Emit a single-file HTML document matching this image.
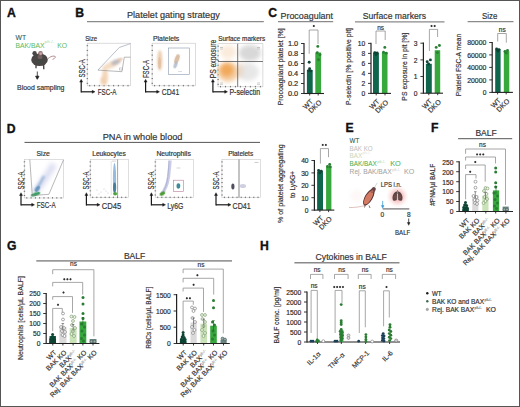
<!DOCTYPE html><html><head><meta charset="utf-8"><style>html,body{margin:0;padding:0;background:#fff;}svg{display:block;}text{font-family:"Liberation Sans", sans-serif;}</style></head><body>
<svg xmlns="http://www.w3.org/2000/svg" width="520" height="407" viewBox="0 0 520 407">
<defs>
<filter id="b1" x="-50%" y="-50%" width="200%" height="200%"><feGaussianBlur stdDeviation="1.2"/></filter>
<filter id="b2" x="-50%" y="-50%" width="200%" height="200%"><feGaussianBlur stdDeviation="2.2"/></filter>
<filter id="b3" x="-50%" y="-50%" width="200%" height="200%"><feGaussianBlur stdDeviation="3.5"/></filter>
<filter id="b05" x="-50%" y="-50%" width="200%" height="200%"><feGaussianBlur stdDeviation="0.6"/></filter>
<radialGradient id="glow"><stop offset="0" stop-color="#f08a8a" stop-opacity="0.8"/><stop offset="0.55" stop-color="#f5b5b5" stop-opacity="0.55"/><stop offset="1" stop-color="#fde8e8" stop-opacity="0"/></radialGradient>
</defs>
<rect x="0" y="0" width="520" height="407" fill="#fff" stroke="none" stroke-width="0"/>
<text x="7" y="17" font-size="12.2" fill="#111" text-anchor="start" font-weight="bold" stroke="#111" stroke-width="0.35">A</text>
<text x="15.6" y="40" font-size="7" fill="#2f5a5c" text-anchor="start" textLength="10.6" lengthAdjust="spacingAndGlyphs" stroke="#2f5a5c" stroke-width="0.1">WT</text>
<text x="15.6" y="47.6" font-size="7" fill="#62bb66" text-anchor="start" textLength="28.8" lengthAdjust="spacingAndGlyphs" stroke="#62bb66" stroke-width="0.05">BAK/BAX</text>
<text x="44.4" y="43.4" font-size="4" fill="#b0dcb0" text-anchor="start" textLength="10" lengthAdjust="spacingAndGlyphs">plt-/-</text>
<text x="57.2" y="47.6" font-size="7" fill="#62bb66" text-anchor="start" textLength="9.8" lengthAdjust="spacingAndGlyphs" stroke="#62bb66" stroke-width="0.05">KO</text>
<path d="M47.5,59 C50,57 52,55.5 55,56.3 C56.5,57 54,59 52.5,59.4" stroke="#b08484" stroke-width="0.9" fill="none"/>
<ellipse cx="39.5" cy="59.8" rx="8.3" ry="6.3" fill="#4b4646" opacity="1"/>
<ellipse cx="34.6" cy="53.2" rx="2.2" ry="2.3" fill="#4b4646" opacity="1"/>
<ellipse cx="40.5" cy="53.2" rx="2.3" ry="2.3" fill="#8a6e6e" opacity="1"/>
<ellipse cx="40.7" cy="53.6" rx="1.3" ry="1.4" fill="#d6a8a8" opacity="1"/>
<ellipse cx="40" cy="57" rx="2.5" ry="2.2" fill="#8a7070" opacity="0.6"/>
<ellipse cx="39.5" cy="61.5" rx="3.5" ry="2.5" fill="#3d4a42" opacity="0.6"/>
<line x1="36" y1="64.5" x2="36" y2="68.3" stroke="#4b4646" stroke-width="1.4"/>
<line x1="43.6" y1="64.5" x2="43.8" y2="69.3" stroke="#4b4646" stroke-width="1.4"/>
<line x1="37.3" y1="71.5" x2="37.3" y2="78.5" stroke="#222" stroke-width="0.8"/>
<polygon points="35.6,76.2 37.3,79.3 39,76.2" stroke="#222" stroke-width="0.8" fill="#222"/>
<text x="17" y="90.2" font-size="7" fill="#333" text-anchor="start" textLength="47.5" lengthAdjust="spacingAndGlyphs" stroke="#333" stroke-width="0.18">Blood sampling</text>
<text x="75.3" y="17" font-size="12.2" fill="#111" text-anchor="start" font-weight="bold" stroke="#111" stroke-width="0.35">B</text>
<text x="127" y="18.2" font-size="8.8" fill="#333" text-anchor="start" textLength="92.8" lengthAdjust="spacingAndGlyphs" stroke="#333" stroke-width="0.18">Platelet gating strategy</text>
<line x1="87" y1="21.6" x2="263.8" y2="21.6" stroke="#8a8a8a" stroke-width="1.3"/>
<text x="85.2" y="41" font-size="6.3" fill="#333" text-anchor="start" textLength="12" lengthAdjust="spacingAndGlyphs" stroke="#333" stroke-width="0.18">Size</text>
<rect x="87.2" y="43.2" width="43.3" height="42.6" fill="none" stroke="#c4c4c4" stroke-width="0.6"/>
<line x1="86.6" y1="45.7" x2="88.1" y2="45.7" stroke="#444" stroke-width="0.7"/>
<line x1="86.6" y1="50.4" x2="88.1" y2="50.4" stroke="#444" stroke-width="0.7"/>
<line x1="86.6" y1="55.1" x2="88.1" y2="55.1" stroke="#444" stroke-width="0.7"/>
<line x1="86.6" y1="59.8" x2="88.1" y2="59.8" stroke="#444" stroke-width="0.7"/>
<line x1="86.6" y1="64.5" x2="88.1" y2="64.5" stroke="#444" stroke-width="0.7"/>
<line x1="86.6" y1="69.2" x2="88.1" y2="69.2" stroke="#444" stroke-width="0.7"/>
<line x1="86.6" y1="73.9" x2="88.1" y2="73.9" stroke="#444" stroke-width="0.7"/>
<line x1="86.6" y1="78.6" x2="88.1" y2="78.6" stroke="#444" stroke-width="0.7"/>
<line x1="86.6" y1="83.3" x2="88.1" y2="83.3" stroke="#444" stroke-width="0.7"/>
<line x1="89.7" y1="84.9" x2="89.7" y2="86.4" stroke="#444" stroke-width="0.7"/>
<line x1="94.49" y1="84.9" x2="94.49" y2="86.4" stroke="#444" stroke-width="0.7"/>
<line x1="99.28" y1="84.9" x2="99.28" y2="86.4" stroke="#444" stroke-width="0.7"/>
<line x1="104.06" y1="84.9" x2="104.06" y2="86.4" stroke="#444" stroke-width="0.7"/>
<line x1="108.85" y1="84.9" x2="108.85" y2="86.4" stroke="#444" stroke-width="0.7"/>
<line x1="113.64" y1="84.9" x2="113.64" y2="86.4" stroke="#444" stroke-width="0.7"/>
<line x1="118.42" y1="84.9" x2="118.42" y2="86.4" stroke="#444" stroke-width="0.7"/>
<line x1="123.21" y1="84.9" x2="123.21" y2="86.4" stroke="#444" stroke-width="0.7"/>
<line x1="128" y1="84.9" x2="128" y2="86.4" stroke="#444" stroke-width="0.7"/>
<ellipse cx="105" cy="77" rx="3.2" ry="8.5" fill="#f0cca8" opacity="0.75" filter="url(#b1)"/>
<ellipse cx="102.5" cy="81" rx="2.5" ry="4" fill="#eec6a0" opacity="0.6" filter="url(#b1)"/>
<ellipse cx="111" cy="65" rx="10" ry="3.2" fill="#f0cfae" opacity="0.7" transform="rotate(-25 111 65)" filter="url(#b1)"/>
<ellipse cx="116" cy="62" rx="5" ry="2.3" fill="#a8acbc" opacity="0.75" transform="rotate(-25 116 62)" filter="url(#b1)"/>
<ellipse cx="120" cy="59.5" rx="3" ry="1.8" fill="#e8c4a4" opacity="0.6" transform="rotate(-25 120 59.5)" filter="url(#b05)"/>
<polyline points="97.9,70.1 119.4,47.4 128.6,44.3 130.5,43.6" stroke="#8a96aa" stroke-width="0.6" fill="none"/>
<polyline points="130.5,57.2 124.3,57.2 121.9,71.7 97.9,70.1" stroke="#8a8a8a" stroke-width="0.6" fill="none"/>
<rect x="119.3" y="68" width="3" height="2" fill="none" stroke="#999" stroke-width="0.4"/>
<line x1="81.2" y1="92.4" x2="81.2" y2="81.3" stroke="#1a1a1a" stroke-width="1.2"/>
<polygon points="79.7,82.1 81.2,79.3 82.7,82.1" stroke="#1a1a1a" stroke-width="0.4" fill="#1a1a1a"/>
<line x1="81.2" y1="91.8" x2="93" y2="91.8" stroke="#1a1a1a" stroke-width="1.2"/>
<polygon points="92.2,90.3 95,91.8 92.2,93.3" stroke="#1a1a1a" stroke-width="0.4" fill="#1a1a1a"/>
<text x="85.1" y="68.4" font-size="8.3" fill="#333" text-anchor="middle" transform="rotate(-90 85.1 68.4)" textLength="18.2" lengthAdjust="spacingAndGlyphs" stroke="#333" stroke-width="0.18">SSC-A</text>
<text x="97.7" y="94.5" font-size="8.3" fill="#333" text-anchor="start" textLength="18.7" lengthAdjust="spacingAndGlyphs" stroke="#333" stroke-width="0.18">FSC-A</text>
<text x="153" y="41" font-size="6.3" fill="#333" text-anchor="start" textLength="26.3" lengthAdjust="spacingAndGlyphs" stroke="#333" stroke-width="0.18">Platelets</text>
<rect x="152.1" y="43.2" width="43.4" height="42.6" fill="none" stroke="#c4c4c4" stroke-width="0.6"/>
<line x1="151.5" y1="45.7" x2="153" y2="45.7" stroke="#444" stroke-width="0.7"/>
<line x1="151.5" y1="50.4" x2="153" y2="50.4" stroke="#444" stroke-width="0.7"/>
<line x1="151.5" y1="55.1" x2="153" y2="55.1" stroke="#444" stroke-width="0.7"/>
<line x1="151.5" y1="59.8" x2="153" y2="59.8" stroke="#444" stroke-width="0.7"/>
<line x1="151.5" y1="64.5" x2="153" y2="64.5" stroke="#444" stroke-width="0.7"/>
<line x1="151.5" y1="69.2" x2="153" y2="69.2" stroke="#444" stroke-width="0.7"/>
<line x1="151.5" y1="73.9" x2="153" y2="73.9" stroke="#444" stroke-width="0.7"/>
<line x1="151.5" y1="78.6" x2="153" y2="78.6" stroke="#444" stroke-width="0.7"/>
<line x1="151.5" y1="83.3" x2="153" y2="83.3" stroke="#444" stroke-width="0.7"/>
<line x1="154.6" y1="84.9" x2="154.6" y2="86.4" stroke="#444" stroke-width="0.7"/>
<line x1="159.4" y1="84.9" x2="159.4" y2="86.4" stroke="#444" stroke-width="0.7"/>
<line x1="164.2" y1="84.9" x2="164.2" y2="86.4" stroke="#444" stroke-width="0.7"/>
<line x1="169" y1="84.9" x2="169" y2="86.4" stroke="#444" stroke-width="0.7"/>
<line x1="173.8" y1="84.9" x2="173.8" y2="86.4" stroke="#444" stroke-width="0.7"/>
<line x1="178.6" y1="84.9" x2="178.6" y2="86.4" stroke="#444" stroke-width="0.7"/>
<line x1="183.4" y1="84.9" x2="183.4" y2="86.4" stroke="#444" stroke-width="0.7"/>
<line x1="188.2" y1="84.9" x2="188.2" y2="86.4" stroke="#444" stroke-width="0.7"/>
<line x1="193" y1="84.9" x2="193" y2="86.4" stroke="#444" stroke-width="0.7"/>
<ellipse cx="159.8" cy="60.5" rx="2.6" ry="10.5" fill="#e8c8a8" opacity="0.85" filter="url(#b1)"/>
<ellipse cx="159.5" cy="63" rx="1.5" ry="6" fill="#dcb898" opacity="0.6" filter="url(#b05)"/>
<ellipse cx="177" cy="59" rx="2.3" ry="5" fill="#d4b498" opacity="0.85" transform="rotate(20 177 59)" filter="url(#b05)"/>
<ellipse cx="175.5" cy="65" rx="1.8" ry="3.5" fill="#a8b4c8" opacity="0.75" transform="rotate(20 175.5 65)" filter="url(#b05)"/>
<rect x="168.4" y="48" width="20.9" height="26.4" fill="none" stroke="#8898b0" stroke-width="0.6"/>
<line x1="178" y1="71.5" x2="182" y2="71.5" stroke="#aaa" stroke-width="0.4"/>
<line x1="145.6" y1="92.4" x2="145.6" y2="81.3" stroke="#1a1a1a" stroke-width="1.2"/>
<polygon points="144.1,82.1 145.6,79.3 147.1,82.1" stroke="#1a1a1a" stroke-width="0.4" fill="#1a1a1a"/>
<line x1="145.6" y1="91.8" x2="157.5" y2="91.8" stroke="#1a1a1a" stroke-width="1.2"/>
<polygon points="156.7,90.3 159.5,91.8 156.7,93.3" stroke="#1a1a1a" stroke-width="0.4" fill="#1a1a1a"/>
<text x="148.7" y="69" font-size="8.3" fill="#333" text-anchor="middle" transform="rotate(-90 148.7 69)" textLength="18.2" lengthAdjust="spacingAndGlyphs" stroke="#333" stroke-width="0.18">FSC-A</text>
<text x="161.7" y="94.8" font-size="8.3" fill="#333" text-anchor="start" textLength="17.5" lengthAdjust="spacingAndGlyphs" stroke="#333" stroke-width="0.18">CD41</text>
<text x="218.2" y="41" font-size="6.3" fill="#333" text-anchor="start" textLength="47" lengthAdjust="spacingAndGlyphs" stroke="#333" stroke-width="0.18">Surface markers</text>
<rect x="218" y="43.7" width="44.9" height="43.1" fill="none" stroke="#c4c4c4" stroke-width="0.6"/>
<line x1="217.4" y1="46.2" x2="218.9" y2="46.2" stroke="#444" stroke-width="0.7"/>
<line x1="217.4" y1="50.96" x2="218.9" y2="50.96" stroke="#444" stroke-width="0.7"/>
<line x1="217.4" y1="55.73" x2="218.9" y2="55.73" stroke="#444" stroke-width="0.7"/>
<line x1="217.4" y1="60.49" x2="218.9" y2="60.49" stroke="#444" stroke-width="0.7"/>
<line x1="217.4" y1="65.25" x2="218.9" y2="65.25" stroke="#444" stroke-width="0.7"/>
<line x1="217.4" y1="70.01" x2="218.9" y2="70.01" stroke="#444" stroke-width="0.7"/>
<line x1="217.4" y1="74.78" x2="218.9" y2="74.78" stroke="#444" stroke-width="0.7"/>
<line x1="217.4" y1="79.54" x2="218.9" y2="79.54" stroke="#444" stroke-width="0.7"/>
<line x1="217.4" y1="84.3" x2="218.9" y2="84.3" stroke="#444" stroke-width="0.7"/>
<line x1="220.5" y1="85.9" x2="220.5" y2="87.4" stroke="#444" stroke-width="0.7"/>
<line x1="225.49" y1="85.9" x2="225.49" y2="87.4" stroke="#444" stroke-width="0.7"/>
<line x1="230.47" y1="85.9" x2="230.47" y2="87.4" stroke="#444" stroke-width="0.7"/>
<line x1="235.46" y1="85.9" x2="235.46" y2="87.4" stroke="#444" stroke-width="0.7"/>
<line x1="240.45" y1="85.9" x2="240.45" y2="87.4" stroke="#444" stroke-width="0.7"/>
<line x1="245.44" y1="85.9" x2="245.44" y2="87.4" stroke="#444" stroke-width="0.7"/>
<line x1="250.42" y1="85.9" x2="250.42" y2="87.4" stroke="#444" stroke-width="0.7"/>
<line x1="255.41" y1="85.9" x2="255.41" y2="87.4" stroke="#444" stroke-width="0.7"/>
<line x1="260.4" y1="85.9" x2="260.4" y2="87.4" stroke="#444" stroke-width="0.7"/>
<ellipse cx="250" cy="53" rx="11" ry="8" fill="#c8c8c8" opacity="0.7" filter="url(#b2)"/>
<ellipse cx="248" cy="72" rx="11" ry="9" fill="#d4d4d4" opacity="0.55" filter="url(#b2)"/>
<ellipse cx="228" cy="52" rx="8" ry="7" fill="#f6dcc0" opacity="0.55" filter="url(#b2)"/>
<ellipse cx="228" cy="72" rx="10.5" ry="10" fill="#f3c08a" opacity="0.8" filter="url(#b2)"/>
<ellipse cx="226.8" cy="70" rx="6.5" ry="6.5" fill="#f0a048" opacity="0.8" filter="url(#b2)"/>
<ellipse cx="240" cy="70" rx="4" ry="8" fill="#e8c8a8" opacity="0.4" filter="url(#b2)"/>
<line x1="237.7" y1="43.7" x2="237.7" y2="86.8" stroke="#555" stroke-width="0.8"/>
<line x1="218" y1="61.5" x2="262.9" y2="61.5" stroke="#555" stroke-width="0.8"/>
<line x1="220" y1="47.5" x2="223" y2="47.5" stroke="#999" stroke-width="0.5"/>
<line x1="220" y1="49" x2="223" y2="49" stroke="#aaa" stroke-width="0.5"/>
<line x1="257" y1="47.5" x2="260" y2="47.5" stroke="#999" stroke-width="0.5"/>
<line x1="257" y1="49" x2="260" y2="49" stroke="#aaa" stroke-width="0.5"/>
<line x1="220" y1="83" x2="223" y2="83" stroke="#999" stroke-width="0.5"/>
<line x1="220" y1="84.5" x2="223" y2="84.5" stroke="#aaa" stroke-width="0.5"/>
<line x1="257" y1="83" x2="260" y2="83" stroke="#999" stroke-width="0.5"/>
<line x1="257" y1="84.5" x2="260" y2="84.5" stroke="#aaa" stroke-width="0.5"/>
<line x1="212.9" y1="92.4" x2="212.9" y2="81.3" stroke="#1a1a1a" stroke-width="1.2"/>
<polygon points="211.4,82.1 212.9,79.3 214.4,82.1" stroke="#1a1a1a" stroke-width="0.4" fill="#1a1a1a"/>
<line x1="212.9" y1="91.8" x2="225.5" y2="91.8" stroke="#1a1a1a" stroke-width="1.2"/>
<polygon points="224.7,90.3 227.5,91.8 224.7,93.3" stroke="#1a1a1a" stroke-width="0.4" fill="#1a1a1a"/>
<text x="216.1" y="59" font-size="8.3" fill="#333" text-anchor="middle" transform="rotate(-90 216.1 59)" textLength="38.6" lengthAdjust="spacingAndGlyphs" stroke="#333" stroke-width="0.18">PS exposure</text>
<text x="229.4" y="94.8" font-size="8.3" fill="#333" text-anchor="start" textLength="30.8" lengthAdjust="spacingAndGlyphs" stroke="#333" stroke-width="0.18">P-selectin</text>
<text x="268.2" y="17.4" font-size="12.2" fill="#111" text-anchor="start" font-weight="bold" stroke="#111" stroke-width="0.35">C</text>
<text x="280.5" y="18.5" font-size="8.8" fill="#333" text-anchor="start" textLength="52.5" lengthAdjust="spacingAndGlyphs" stroke="#333" stroke-width="0.18">Procoagulant</text>
<line x1="278" y1="21.6" x2="333.2" y2="21.6" stroke="#8a8a8a" stroke-width="1.3"/>
<text x="362.7" y="19" font-size="8.8" fill="#333" text-anchor="start" textLength="63.3" lengthAdjust="spacingAndGlyphs" stroke="#333" stroke-width="0.18">Surface markers</text>
<line x1="355" y1="21.9" x2="444.5" y2="21.9" stroke="#8a8a8a" stroke-width="1.3"/>
<text x="481.9" y="19" font-size="8.8" fill="#333" text-anchor="start" textLength="15.4" lengthAdjust="spacingAndGlyphs" stroke="#333" stroke-width="0.18">Size</text>
<line x1="467.6" y1="21.7" x2="513.5" y2="21.7" stroke="#8a8a8a" stroke-width="1.3"/>
<line x1="304" y1="42.9" x2="304" y2="94.1" stroke="#222" stroke-width="1.2"/>
<line x1="301" y1="43.5" x2="304" y2="43.5" stroke="#222" stroke-width="0.9"/>
<text x="298.2" y="46.3" font-size="6.7" fill="#2b2b2b" text-anchor="end" textLength="10.3" lengthAdjust="spacingAndGlyphs" stroke="#2b2b2b" stroke-width="0.18">1.0</text>
<line x1="301" y1="53.5" x2="304" y2="53.5" stroke="#222" stroke-width="0.9"/>
<text x="298.2" y="56.3" font-size="6.7" fill="#2b2b2b" text-anchor="end" textLength="10.3" lengthAdjust="spacingAndGlyphs" stroke="#2b2b2b" stroke-width="0.18">0.8</text>
<line x1="301" y1="63.5" x2="304" y2="63.5" stroke="#222" stroke-width="0.9"/>
<text x="298.2" y="66.3" font-size="6.7" fill="#2b2b2b" text-anchor="end" textLength="10.3" lengthAdjust="spacingAndGlyphs" stroke="#2b2b2b" stroke-width="0.18">0.6</text>
<line x1="301" y1="73.5" x2="304" y2="73.5" stroke="#222" stroke-width="0.9"/>
<text x="298.2" y="76.3" font-size="6.7" fill="#2b2b2b" text-anchor="end" textLength="10.3" lengthAdjust="spacingAndGlyphs" stroke="#2b2b2b" stroke-width="0.18">0.4</text>
<line x1="301" y1="83.5" x2="304" y2="83.5" stroke="#222" stroke-width="0.9"/>
<text x="298.2" y="86.3" font-size="6.7" fill="#2b2b2b" text-anchor="end" textLength="10.3" lengthAdjust="spacingAndGlyphs" stroke="#2b2b2b" stroke-width="0.18">0.2</text>
<line x1="301" y1="93.5" x2="304" y2="93.5" stroke="#222" stroke-width="0.9"/>
<text x="298.2" y="96.3" font-size="6.7" fill="#2b2b2b" text-anchor="end" textLength="10.3" lengthAdjust="spacingAndGlyphs" stroke="#2b2b2b" stroke-width="0.18">0.0</text>
<rect x="306.9" y="70" width="5.8" height="23.5" fill="#0f664c" stroke="none" stroke-width="0"/>
<rect x="315.3" y="52.5" width="5.8" height="41" fill="#37a83c" stroke="none" stroke-width="0"/>
<circle cx="309.2" cy="62.2" r="1.45" fill="#0d4434" stroke="none" stroke-width="0.6"/>
<circle cx="309.6" cy="68.8" r="1.45" fill="#0d4434" stroke="none" stroke-width="0.6"/>
<circle cx="308.6" cy="70.6" r="1.45" fill="#0d4434" stroke="none" stroke-width="0.6"/>
<circle cx="310.8" cy="70.9" r="1.45" fill="#0d4434" stroke="none" stroke-width="0.6"/>
<circle cx="317.8" cy="46.4" r="1.45" fill="#2a7f34" stroke="none" stroke-width="0.6"/>
<circle cx="317.3" cy="52.8" r="1.45" fill="#2a7f34" stroke="none" stroke-width="0.6"/>
<circle cx="320" cy="54.8" r="1.45" fill="#2a7f34" stroke="none" stroke-width="0.6"/>
<circle cx="318.5" cy="59.8" r="1.45" fill="#2a7f34" stroke="none" stroke-width="0.6"/>
<line x1="304" y1="93.5" x2="324" y2="93.5" stroke="#222" stroke-width="1.1"/>
<line x1="309.7" y1="93.5" x2="309.7" y2="95.5" stroke="#222" stroke-width="0.9"/>
<line x1="318.2" y1="93.5" x2="318.2" y2="95.5" stroke="#222" stroke-width="0.9"/>
<polyline points="309.2,53.8 309.2,30 318,30 318,44" stroke="#8a8a8a" stroke-width="0.75" fill="none"/>
<circle cx="313.8" cy="26" r="0.95" fill="#2e2e2e" stroke="none" stroke-width="0"/>
<path d="M313.8,24.9 l0,2.2 M312.7,26 l2.2,0" stroke="#2e2e2e" stroke-width="0.35"/>
<text x="282.7" y="66.8" font-size="8" fill="#333" text-anchor="middle" transform="rotate(-90 282.7 66.8)" textLength="77" lengthAdjust="spacingAndGlyphs" stroke="#333" stroke-width="0.18">Procoagulant platelet [%]</text>
<text x="313.5" y="102" font-size="7" fill="#333" text-anchor="end" transform="rotate(-45 313.5 102)" stroke="#333" stroke-width="0.18">WT</text>
<text x="322" y="102.8" font-size="7" fill="#333" text-anchor="end" transform="rotate(-45 322 102.8)" stroke="#333" stroke-width="0.18">DKO</text>
<line x1="371" y1="42.8" x2="371" y2="94" stroke="#222" stroke-width="1.2"/>
<line x1="368" y1="43.4" x2="371" y2="43.4" stroke="#222" stroke-width="0.9"/>
<text x="365.2" y="46.2" font-size="6.7" fill="#2b2b2b" text-anchor="end" stroke="#2b2b2b" stroke-width="0.18">10</text>
<line x1="368" y1="53.4" x2="371" y2="53.4" stroke="#222" stroke-width="0.9"/>
<text x="365.2" y="56.2" font-size="6.7" fill="#2b2b2b" text-anchor="end" stroke="#2b2b2b" stroke-width="0.18">8</text>
<line x1="368" y1="63.4" x2="371" y2="63.4" stroke="#222" stroke-width="0.9"/>
<text x="365.2" y="66.2" font-size="6.7" fill="#2b2b2b" text-anchor="end" stroke="#2b2b2b" stroke-width="0.18">6</text>
<line x1="368" y1="73.4" x2="371" y2="73.4" stroke="#222" stroke-width="0.9"/>
<text x="365.2" y="76.2" font-size="6.7" fill="#2b2b2b" text-anchor="end" stroke="#2b2b2b" stroke-width="0.18">4</text>
<line x1="368" y1="83.4" x2="371" y2="83.4" stroke="#222" stroke-width="0.9"/>
<text x="365.2" y="86.2" font-size="6.7" fill="#2b2b2b" text-anchor="end" stroke="#2b2b2b" stroke-width="0.18">2</text>
<line x1="368" y1="93.4" x2="371" y2="93.4" stroke="#222" stroke-width="0.9"/>
<text x="365.2" y="96.2" font-size="6.7" fill="#2b2b2b" text-anchor="end" stroke="#2b2b2b" stroke-width="0.18">0</text>
<rect x="373" y="53" width="5.9" height="40.4" fill="#0f664c" stroke="none" stroke-width="0"/>
<rect x="381.9" y="52.3" width="5.6" height="41.1" fill="#37a83c" stroke="none" stroke-width="0"/>
<circle cx="374.8" cy="52.6" r="1.45" fill="#0d4434" stroke="none" stroke-width="0.6"/>
<circle cx="377.2" cy="52.9" r="1.45" fill="#0d4434" stroke="none" stroke-width="0.6"/>
<circle cx="376" cy="54.5" r="1.45" fill="#0d4434" stroke="none" stroke-width="0.6"/>
<circle cx="384.8" cy="47.4" r="1.45" fill="#2a7f34" stroke="none" stroke-width="0.6"/>
<circle cx="383.5" cy="52.2" r="1.45" fill="#2a7f34" stroke="none" stroke-width="0.6"/>
<circle cx="386.2" cy="53.2" r="1.45" fill="#2a7f34" stroke="none" stroke-width="0.6"/>
<line x1="371" y1="93.4" x2="391" y2="93.4" stroke="#222" stroke-width="1.1"/>
<line x1="376.2" y1="93.4" x2="376.2" y2="95.4" stroke="#222" stroke-width="0.9"/>
<line x1="385" y1="93.4" x2="385" y2="95.4" stroke="#222" stroke-width="0.9"/>
<polyline points="376,44 376,31 385.2,31 385.2,40" stroke="#8a8a8a" stroke-width="0.75" fill="none"/>
<text x="380.6" y="29.6" font-size="6.5" fill="#333" text-anchor="middle" stroke="#333" stroke-width="0.18">ns</text>
<text x="350.8" y="66.5" font-size="8" fill="#333" text-anchor="middle" transform="rotate(-90 350.8 66.5)" textLength="77" lengthAdjust="spacingAndGlyphs" stroke="#333" stroke-width="0.18">P-selectin [% positive plt]</text>
<text x="380" y="102" font-size="7" fill="#333" text-anchor="end" transform="rotate(-45 380 102)" stroke="#333" stroke-width="0.18">WT</text>
<text x="388.8" y="102.8" font-size="7" fill="#333" text-anchor="end" transform="rotate(-45 388.8 102.8)" stroke="#333" stroke-width="0.18">DKO</text>
<line x1="423.4" y1="42.6" x2="423.4" y2="93.8" stroke="#222" stroke-width="1.2"/>
<line x1="420.4" y1="43.2" x2="423.4" y2="43.2" stroke="#222" stroke-width="0.9"/>
<text x="417.6" y="46" font-size="6.7" fill="#2b2b2b" text-anchor="end" stroke="#2b2b2b" stroke-width="0.18">3</text>
<line x1="420.4" y1="59.9" x2="423.4" y2="59.9" stroke="#222" stroke-width="0.9"/>
<text x="417.6" y="62.7" font-size="6.7" fill="#2b2b2b" text-anchor="end" stroke="#2b2b2b" stroke-width="0.18">2</text>
<line x1="420.4" y1="76.5" x2="423.4" y2="76.5" stroke="#222" stroke-width="0.9"/>
<text x="417.6" y="79.3" font-size="6.7" fill="#2b2b2b" text-anchor="end" stroke="#2b2b2b" stroke-width="0.18">1</text>
<line x1="420.4" y1="93.2" x2="423.4" y2="93.2" stroke="#222" stroke-width="0.9"/>
<text x="417.6" y="96" font-size="6.7" fill="#2b2b2b" text-anchor="end" stroke="#2b2b2b" stroke-width="0.18">0</text>
<rect x="425.9" y="63.8" width="5.9" height="29.4" fill="#0f664c" stroke="none" stroke-width="0"/>
<rect x="434.7" y="50.2" width="5.5" height="43" fill="#37a83c" stroke="none" stroke-width="0"/>
<circle cx="427.2" cy="61.7" r="1.45" fill="#0d4434" stroke="none" stroke-width="0.6"/>
<circle cx="430.4" cy="59.9" r="1.45" fill="#0d4434" stroke="none" stroke-width="0.6"/>
<circle cx="428.6" cy="64" r="1.45" fill="#0d4434" stroke="none" stroke-width="0.6"/>
<circle cx="436.2" cy="47.4" r="1.45" fill="#2a7f34" stroke="none" stroke-width="0.6"/>
<circle cx="439.4" cy="45.5" r="1.45" fill="#2a7f34" stroke="none" stroke-width="0.6"/>
<circle cx="437.4" cy="52.6" r="1.45" fill="#2a7f34" stroke="none" stroke-width="0.6"/>
<line x1="423.4" y1="93.2" x2="443" y2="93.2" stroke="#222" stroke-width="1.1"/>
<line x1="428.8" y1="93.2" x2="428.8" y2="95.2" stroke="#222" stroke-width="0.9"/>
<line x1="437.7" y1="93.2" x2="437.7" y2="95.2" stroke="#222" stroke-width="0.9"/>
<polyline points="429.4,51 429.4,29.4 437.6,29.4 437.6,37" stroke="#8a8a8a" stroke-width="0.75" fill="none"/>
<circle cx="431.55" cy="26" r="0.95" fill="#2e2e2e" stroke="none" stroke-width="0"/>
<path d="M431.55,24.9 l0,2.2 M430.45,26 l2.2,0" stroke="#2e2e2e" stroke-width="0.35"/>
<circle cx="434.65" cy="26" r="0.95" fill="#2e2e2e" stroke="none" stroke-width="0"/>
<path d="M434.65,24.9 l0,2.2 M433.55,26 l2.2,0" stroke="#2e2e2e" stroke-width="0.35"/>
<text x="406.9" y="66.7" font-size="8" fill="#333" text-anchor="middle" transform="rotate(-90 406.9 66.7)" textLength="68" lengthAdjust="spacingAndGlyphs" stroke="#333" stroke-width="0.18">PS exposure in plt [%]</text>
<text x="432.6" y="101.7" font-size="7" fill="#333" text-anchor="end" transform="rotate(-45 432.6 101.7)" stroke="#333" stroke-width="0.18">WT</text>
<text x="441.5" y="102.5" font-size="7" fill="#333" text-anchor="end" transform="rotate(-45 441.5 102.5)" stroke="#333" stroke-width="0.18">DKO</text>
<line x1="492.2" y1="41.9" x2="492.2" y2="93" stroke="#222" stroke-width="1.2"/>
<line x1="489.2" y1="42.5" x2="492.2" y2="42.5" stroke="#222" stroke-width="0.9"/>
<text x="486.4" y="45.3" font-size="6.7" fill="#2b2b2b" text-anchor="end" textLength="19.2" lengthAdjust="spacingAndGlyphs" stroke="#2b2b2b" stroke-width="0.18">80000</text>
<line x1="489.2" y1="54.9" x2="492.2" y2="54.9" stroke="#222" stroke-width="0.9"/>
<text x="486.4" y="57.7" font-size="6.7" fill="#2b2b2b" text-anchor="end" textLength="19.2" lengthAdjust="spacingAndGlyphs" stroke="#2b2b2b" stroke-width="0.18">60000</text>
<line x1="489.2" y1="67.4" x2="492.2" y2="67.4" stroke="#222" stroke-width="0.9"/>
<text x="486.4" y="70.2" font-size="6.7" fill="#2b2b2b" text-anchor="end" textLength="19.2" lengthAdjust="spacingAndGlyphs" stroke="#2b2b2b" stroke-width="0.18">40000</text>
<line x1="489.2" y1="79.9" x2="492.2" y2="79.9" stroke="#222" stroke-width="0.9"/>
<text x="486.4" y="82.7" font-size="6.7" fill="#2b2b2b" text-anchor="end" textLength="19.2" lengthAdjust="spacingAndGlyphs" stroke="#2b2b2b" stroke-width="0.18">20000</text>
<line x1="489.2" y1="92.4" x2="492.2" y2="92.4" stroke="#222" stroke-width="0.9"/>
<text x="486.4" y="95.2" font-size="6.7" fill="#2b2b2b" text-anchor="end" stroke="#2b2b2b" stroke-width="0.18">0</text>
<rect x="495.2" y="49.3" width="5.4" height="43.1" fill="#0f664c" stroke="none" stroke-width="0"/>
<rect x="503.8" y="51.2" width="5.5" height="41.2" fill="#37a83c" stroke="none" stroke-width="0"/>
<circle cx="496.6" cy="49" r="1.45" fill="#0d4434" stroke="none" stroke-width="0.6"/>
<circle cx="499" cy="49.6" r="1.45" fill="#0d4434" stroke="none" stroke-width="0.6"/>
<circle cx="498" cy="51" r="1.45" fill="#0d4434" stroke="none" stroke-width="0.6"/>
<circle cx="505" cy="51.5" r="1.45" fill="#2a7f34" stroke="none" stroke-width="0.6"/>
<circle cx="507.5" cy="50.5" r="1.45" fill="#2a7f34" stroke="none" stroke-width="0.6"/>
<circle cx="506.3" cy="53" r="1.45" fill="#2a7f34" stroke="none" stroke-width="0.6"/>
<line x1="492.2" y1="92.4" x2="512.9" y2="92.4" stroke="#222" stroke-width="1.1"/>
<line x1="497.6" y1="92.4" x2="497.6" y2="94.4" stroke="#222" stroke-width="0.9"/>
<line x1="506.2" y1="92.4" x2="506.2" y2="94.4" stroke="#222" stroke-width="0.9"/>
<polyline points="497.7,41.5 497.7,33.5 506.3,33.5 506.3,42.7" stroke="#8a8a8a" stroke-width="0.75" fill="none"/>
<text x="502.3" y="32" font-size="6.5" fill="#333" text-anchor="middle" stroke="#333" stroke-width="0.18">ns</text>
<text x="460.7" y="65" font-size="8" fill="#333" text-anchor="middle" transform="rotate(-90 460.7 65)" textLength="62.3" lengthAdjust="spacingAndGlyphs" stroke="#333" stroke-width="0.18">Platelet FSC-A mean</text>
<text x="501.4" y="100.9" font-size="7" fill="#333" text-anchor="end" transform="rotate(-45 501.4 100.9)" stroke="#333" stroke-width="0.18">WT</text>
<text x="510" y="101.7" font-size="7" fill="#333" text-anchor="end" transform="rotate(-45 510 101.7)" stroke="#333" stroke-width="0.18">DKO</text>
<text x="6.8" y="132.7" font-size="12.2" fill="#111" text-anchor="start" font-weight="bold" stroke="#111" stroke-width="0.35">D</text>
<text x="102.7" y="140" font-size="8.8" fill="#333" text-anchor="start" textLength="79.8" lengthAdjust="spacingAndGlyphs" stroke="#333" stroke-width="0.18">PNA in whole blood</text>
<line x1="24.5" y1="142.4" x2="260" y2="142.4" stroke="#555" stroke-width="1"/>
<text x="43.2" y="156" font-size="6.3" fill="#333" text-anchor="middle" textLength="13.2" lengthAdjust="spacingAndGlyphs" stroke="#333" stroke-width="0.18">Size</text>
<rect x="24.3" y="159.3" width="39.3" height="38.7" fill="none" stroke="#c8c8c8" stroke-width="0.6"/>
<line x1="23.7" y1="161.8" x2="25.2" y2="161.8" stroke="#444" stroke-width="0.7"/>
<line x1="23.7" y1="166.01" x2="25.2" y2="166.01" stroke="#444" stroke-width="0.7"/>
<line x1="23.7" y1="170.23" x2="25.2" y2="170.23" stroke="#444" stroke-width="0.7"/>
<line x1="23.7" y1="174.44" x2="25.2" y2="174.44" stroke="#444" stroke-width="0.7"/>
<line x1="23.7" y1="178.65" x2="25.2" y2="178.65" stroke="#444" stroke-width="0.7"/>
<line x1="23.7" y1="182.86" x2="25.2" y2="182.86" stroke="#444" stroke-width="0.7"/>
<line x1="23.7" y1="187.07" x2="25.2" y2="187.07" stroke="#444" stroke-width="0.7"/>
<line x1="23.7" y1="191.29" x2="25.2" y2="191.29" stroke="#444" stroke-width="0.7"/>
<line x1="23.7" y1="195.5" x2="25.2" y2="195.5" stroke="#444" stroke-width="0.7"/>
<line x1="26.8" y1="197.1" x2="26.8" y2="198.6" stroke="#444" stroke-width="0.7"/>
<line x1="31.09" y1="197.1" x2="31.09" y2="198.6" stroke="#444" stroke-width="0.7"/>
<line x1="35.38" y1="197.1" x2="35.38" y2="198.6" stroke="#444" stroke-width="0.7"/>
<line x1="39.66" y1="197.1" x2="39.66" y2="198.6" stroke="#444" stroke-width="0.7"/>
<line x1="43.95" y1="197.1" x2="43.95" y2="198.6" stroke="#444" stroke-width="0.7"/>
<line x1="48.24" y1="197.1" x2="48.24" y2="198.6" stroke="#444" stroke-width="0.7"/>
<line x1="52.52" y1="197.1" x2="52.52" y2="198.6" stroke="#444" stroke-width="0.7"/>
<line x1="56.81" y1="197.1" x2="56.81" y2="198.6" stroke="#444" stroke-width="0.7"/>
<line x1="61.1" y1="197.1" x2="61.1" y2="198.6" stroke="#444" stroke-width="0.7"/>
<path d="M34,193 C40,186 46,178 54,164" stroke="#c4c8e8" stroke-width="7" fill="none" opacity="0.55" filter="url(#b2)"/>
<path d="M35,191 C38,187 41,182 44,176" stroke="#5a8cc0" stroke-width="2.5" fill="none" opacity="0.55" filter="url(#b1)"/>
<ellipse cx="37.5" cy="189" rx="2" ry="3.5" fill="#3a78a8" opacity="0.6" transform="rotate(35 37.5 189)" filter="url(#b05)"/>
<ellipse cx="35.5" cy="194.2" rx="5" ry="1.7" fill="#2e9e58" opacity="0.95" transform="rotate(-18 35.5 194.2)" filter="url(#b05)"/>
<line x1="29.8" y1="159.5" x2="32.3" y2="195.5" stroke="#888" stroke-width="0.6"/>
<polyline points="63.5,159.9 48.9,194.3 32.3,195.5" stroke="#888" stroke-width="0.6" fill="none"/>
<line x1="21" y1="205.4" x2="21" y2="194.7" stroke="#1a1a1a" stroke-width="1.2"/>
<polygon points="19.5,195.5 21,192.7 22.5,195.5" stroke="#1a1a1a" stroke-width="0.4" fill="#1a1a1a"/>
<line x1="21" y1="204.8" x2="32.5" y2="204.8" stroke="#1a1a1a" stroke-width="1.2"/>
<polygon points="31.7,203.3 34.5,204.8 31.7,206.3" stroke="#1a1a1a" stroke-width="0.4" fill="#1a1a1a"/>
<text x="24" y="180.5" font-size="8.3" fill="#333" text-anchor="middle" transform="rotate(-90 24 180.5)" textLength="17.9" lengthAdjust="spacingAndGlyphs" stroke="#333" stroke-width="0.18">SSC-A</text>
<text x="36.7" y="208.3" font-size="8.3" fill="#333" text-anchor="start" textLength="18.9" lengthAdjust="spacingAndGlyphs" stroke="#333" stroke-width="0.18">FSC-A</text>
<text x="109" y="156" font-size="6.3" fill="#333" text-anchor="middle" textLength="33.6" lengthAdjust="spacingAndGlyphs" stroke="#333" stroke-width="0.18">Leukocytes</text>
<rect x="90.2" y="159.4" width="38.1" height="38.1" fill="none" stroke="#c8c8c8" stroke-width="0.6"/>
<line x1="89.6" y1="161.9" x2="91.1" y2="161.9" stroke="#444" stroke-width="0.7"/>
<line x1="89.6" y1="166.04" x2="91.1" y2="166.04" stroke="#444" stroke-width="0.7"/>
<line x1="89.6" y1="170.18" x2="91.1" y2="170.18" stroke="#444" stroke-width="0.7"/>
<line x1="89.6" y1="174.31" x2="91.1" y2="174.31" stroke="#444" stroke-width="0.7"/>
<line x1="89.6" y1="178.45" x2="91.1" y2="178.45" stroke="#444" stroke-width="0.7"/>
<line x1="89.6" y1="182.59" x2="91.1" y2="182.59" stroke="#444" stroke-width="0.7"/>
<line x1="89.6" y1="186.72" x2="91.1" y2="186.72" stroke="#444" stroke-width="0.7"/>
<line x1="89.6" y1="190.86" x2="91.1" y2="190.86" stroke="#444" stroke-width="0.7"/>
<line x1="89.6" y1="195" x2="91.1" y2="195" stroke="#444" stroke-width="0.7"/>
<line x1="92.7" y1="196.6" x2="92.7" y2="198.1" stroke="#444" stroke-width="0.7"/>
<line x1="96.84" y1="196.6" x2="96.84" y2="198.1" stroke="#444" stroke-width="0.7"/>
<line x1="100.98" y1="196.6" x2="100.98" y2="198.1" stroke="#444" stroke-width="0.7"/>
<line x1="105.11" y1="196.6" x2="105.11" y2="198.1" stroke="#444" stroke-width="0.7"/>
<line x1="109.25" y1="196.6" x2="109.25" y2="198.1" stroke="#444" stroke-width="0.7"/>
<line x1="113.39" y1="196.6" x2="113.39" y2="198.1" stroke="#444" stroke-width="0.7"/>
<line x1="117.53" y1="196.6" x2="117.53" y2="198.1" stroke="#444" stroke-width="0.7"/>
<line x1="121.66" y1="196.6" x2="121.66" y2="198.1" stroke="#444" stroke-width="0.7"/>
<line x1="125.8" y1="196.6" x2="125.8" y2="198.1" stroke="#444" stroke-width="0.7"/>
<ellipse cx="114.5" cy="179" rx="1.6" ry="16" fill="#8ab4dc" opacity="0.9" filter="url(#b05)"/>
<ellipse cx="114.6" cy="187.5" rx="1.6" ry="5" fill="#2a6a8a" opacity="0.75" filter="url(#b05)"/>
<ellipse cx="115.1" cy="193.7" rx="2" ry="1.8" fill="#4aa030" opacity="0.95" filter="url(#b05)"/>
<circle cx="97" cy="190" r="0.5" fill="#b8b8d8" stroke="none" stroke-width="0"/>
<circle cx="101" cy="192" r="0.5" fill="#b8b8d8" stroke="none" stroke-width="0"/>
<circle cx="104" cy="189" r="0.5" fill="#b8b8d8" stroke="none" stroke-width="0"/>
<circle cx="108" cy="193" r="0.5" fill="#b8b8d8" stroke="none" stroke-width="0"/>
<circle cx="99" cy="194" r="0.5" fill="#b8b8d8" stroke="none" stroke-width="0"/>
<circle cx="106" cy="191" r="0.5" fill="#b8b8d8" stroke="none" stroke-width="0"/>
<line x1="117.6" y1="159.4" x2="117.6" y2="197.5" stroke="#666" stroke-width="0.6"/>
<line x1="111.2" y1="161" x2="111.2" y2="195" stroke="#bbb" stroke-width="0.4"/>
<line x1="112" y1="161.1" x2="116" y2="161.1" stroke="#999" stroke-width="0.4"/>
<line x1="86.4" y1="205.4" x2="86.4" y2="194.7" stroke="#1a1a1a" stroke-width="1.2"/>
<polygon points="84.9,195.5 86.4,192.7 87.9,195.5" stroke="#1a1a1a" stroke-width="0.4" fill="#1a1a1a"/>
<line x1="86.4" y1="204.8" x2="98" y2="204.8" stroke="#1a1a1a" stroke-width="1.2"/>
<polygon points="97.2,203.3 100,204.8 97.2,206.3" stroke="#1a1a1a" stroke-width="0.4" fill="#1a1a1a"/>
<text x="89.2" y="180.5" font-size="8.3" fill="#333" text-anchor="middle" transform="rotate(-90 89.2 180.5)" textLength="17.9" lengthAdjust="spacingAndGlyphs" stroke="#333" stroke-width="0.18">SSC-A</text>
<text x="101.7" y="208.5" font-size="8.3" fill="#333" text-anchor="start" textLength="19.5" lengthAdjust="spacingAndGlyphs" stroke="#333" stroke-width="0.18">CD45</text>
<text x="173.6" y="156" font-size="6.3" fill="#333" text-anchor="middle" textLength="34.4" lengthAdjust="spacingAndGlyphs" stroke="#333" stroke-width="0.18">Neutrophils</text>
<rect x="155.2" y="159.4" width="38.1" height="38.1" fill="none" stroke="#c8c8c8" stroke-width="0.6"/>
<line x1="154.6" y1="161.9" x2="156.1" y2="161.9" stroke="#444" stroke-width="0.7"/>
<line x1="154.6" y1="166.04" x2="156.1" y2="166.04" stroke="#444" stroke-width="0.7"/>
<line x1="154.6" y1="170.18" x2="156.1" y2="170.18" stroke="#444" stroke-width="0.7"/>
<line x1="154.6" y1="174.31" x2="156.1" y2="174.31" stroke="#444" stroke-width="0.7"/>
<line x1="154.6" y1="178.45" x2="156.1" y2="178.45" stroke="#444" stroke-width="0.7"/>
<line x1="154.6" y1="182.59" x2="156.1" y2="182.59" stroke="#444" stroke-width="0.7"/>
<line x1="154.6" y1="186.72" x2="156.1" y2="186.72" stroke="#444" stroke-width="0.7"/>
<line x1="154.6" y1="190.86" x2="156.1" y2="190.86" stroke="#444" stroke-width="0.7"/>
<line x1="154.6" y1="195" x2="156.1" y2="195" stroke="#444" stroke-width="0.7"/>
<line x1="157.7" y1="196.6" x2="157.7" y2="198.1" stroke="#444" stroke-width="0.7"/>
<line x1="161.84" y1="196.6" x2="161.84" y2="198.1" stroke="#444" stroke-width="0.7"/>
<line x1="165.97" y1="196.6" x2="165.97" y2="198.1" stroke="#444" stroke-width="0.7"/>
<line x1="170.11" y1="196.6" x2="170.11" y2="198.1" stroke="#444" stroke-width="0.7"/>
<line x1="174.25" y1="196.6" x2="174.25" y2="198.1" stroke="#444" stroke-width="0.7"/>
<line x1="178.39" y1="196.6" x2="178.39" y2="198.1" stroke="#444" stroke-width="0.7"/>
<line x1="182.53" y1="196.6" x2="182.53" y2="198.1" stroke="#444" stroke-width="0.7"/>
<line x1="186.66" y1="196.6" x2="186.66" y2="198.1" stroke="#444" stroke-width="0.7"/>
<line x1="190.8" y1="196.6" x2="190.8" y2="198.1" stroke="#444" stroke-width="0.7"/>
<path d="M161.3,194.2 C165,190 167.5,184 168.5,177 C169.3,170 169.8,165 170.1,160.5" stroke="#c4c4e4" stroke-width="3.2" fill="none" opacity="0.85" filter="url(#b05)"/>
<path d="M161.3,194.2 C165,190 167,184 167.8,177 C168.5,170 168.8,165 169,160.5" stroke="#8a9ab8" stroke-width="0.6" fill="none" opacity="0.8"/>
<ellipse cx="162.4" cy="193.6" rx="3" ry="1.9" fill="#4a9a30" opacity="0.95" transform="rotate(-30 162.4 193.6)" filter="url(#b05)"/>
<rect x="173.4" y="180.2" width="10" height="11.3" fill="none" stroke="#b87898" stroke-width="0.6"/>
<ellipse cx="178.4" cy="186" rx="1.9" ry="2.8" fill="#2a7f8e" opacity="0.9" filter="url(#b05)"/>
<line x1="176.5" y1="168" x2="180.5" y2="168" stroke="#aaa" stroke-width="0.5"/>
<line x1="151.4" y1="205.4" x2="151.4" y2="194.7" stroke="#1a1a1a" stroke-width="1.2"/>
<polygon points="149.9,195.5 151.4,192.7 152.9,195.5" stroke="#1a1a1a" stroke-width="0.4" fill="#1a1a1a"/>
<line x1="151.4" y1="204.8" x2="163.5" y2="204.8" stroke="#1a1a1a" stroke-width="1.2"/>
<polygon points="162.7,203.3 165.5,204.8 162.7,206.3" stroke="#1a1a1a" stroke-width="0.4" fill="#1a1a1a"/>
<text x="154.1" y="180.5" font-size="8.3" fill="#333" text-anchor="middle" transform="rotate(-90 154.1 180.5)" textLength="17.9" lengthAdjust="spacingAndGlyphs" stroke="#333" stroke-width="0.18">SSC-A</text>
<text x="167.2" y="208.5" font-size="8.3" fill="#333" text-anchor="start" textLength="16.2" lengthAdjust="spacingAndGlyphs" stroke="#333" stroke-width="0.18">Ly6G</text>
<text x="240.7" y="156.3" font-size="6.3" fill="#333" text-anchor="middle" textLength="25" lengthAdjust="spacingAndGlyphs" stroke="#333" stroke-width="0.18">Platelets</text>
<rect x="221.9" y="159.4" width="38.6" height="38.1" fill="none" stroke="#c8c8c8" stroke-width="0.6"/>
<line x1="221.3" y1="161.9" x2="222.8" y2="161.9" stroke="#444" stroke-width="0.7"/>
<line x1="221.3" y1="166.04" x2="222.8" y2="166.04" stroke="#444" stroke-width="0.7"/>
<line x1="221.3" y1="170.18" x2="222.8" y2="170.18" stroke="#444" stroke-width="0.7"/>
<line x1="221.3" y1="174.31" x2="222.8" y2="174.31" stroke="#444" stroke-width="0.7"/>
<line x1="221.3" y1="178.45" x2="222.8" y2="178.45" stroke="#444" stroke-width="0.7"/>
<line x1="221.3" y1="182.59" x2="222.8" y2="182.59" stroke="#444" stroke-width="0.7"/>
<line x1="221.3" y1="186.72" x2="222.8" y2="186.72" stroke="#444" stroke-width="0.7"/>
<line x1="221.3" y1="190.86" x2="222.8" y2="190.86" stroke="#444" stroke-width="0.7"/>
<line x1="221.3" y1="195" x2="222.8" y2="195" stroke="#444" stroke-width="0.7"/>
<line x1="224.4" y1="196.6" x2="224.4" y2="198.1" stroke="#444" stroke-width="0.7"/>
<line x1="228.6" y1="196.6" x2="228.6" y2="198.1" stroke="#444" stroke-width="0.7"/>
<line x1="232.8" y1="196.6" x2="232.8" y2="198.1" stroke="#444" stroke-width="0.7"/>
<line x1="237" y1="196.6" x2="237" y2="198.1" stroke="#444" stroke-width="0.7"/>
<line x1="241.2" y1="196.6" x2="241.2" y2="198.1" stroke="#444" stroke-width="0.7"/>
<line x1="245.4" y1="196.6" x2="245.4" y2="198.1" stroke="#444" stroke-width="0.7"/>
<line x1="249.6" y1="196.6" x2="249.6" y2="198.1" stroke="#444" stroke-width="0.7"/>
<line x1="253.8" y1="196.6" x2="253.8" y2="198.1" stroke="#444" stroke-width="0.7"/>
<line x1="258" y1="196.6" x2="258" y2="198.1" stroke="#444" stroke-width="0.7"/>
<line x1="239" y1="159.4" x2="239" y2="197.5" stroke="#555" stroke-width="0.7"/>
<ellipse cx="232.9" cy="186.5" rx="1.6" ry="3" fill="#3e3e50" opacity="0.9" filter="url(#b05)"/>
<ellipse cx="242.9" cy="186" rx="3.2" ry="2" fill="#c4c4da" opacity="0.8" filter="url(#b05)"/>
<line x1="254.5" y1="162.5" x2="258.5" y2="162.5" stroke="#999" stroke-width="0.5"/>
<line x1="216" y1="205.4" x2="216" y2="194.7" stroke="#1a1a1a" stroke-width="1.2"/>
<polygon points="214.5,195.5 216,192.7 217.5,195.5" stroke="#1a1a1a" stroke-width="0.4" fill="#1a1a1a"/>
<line x1="216" y1="204.8" x2="229" y2="204.8" stroke="#1a1a1a" stroke-width="1.2"/>
<polygon points="228.2,203.3 231,204.8 228.2,206.3" stroke="#1a1a1a" stroke-width="0.4" fill="#1a1a1a"/>
<text x="218.8" y="180.5" font-size="8.3" fill="#333" text-anchor="middle" transform="rotate(-90 218.8 180.5)" textLength="17.9" lengthAdjust="spacingAndGlyphs" stroke="#333" stroke-width="0.18">SSC-A</text>
<text x="232.5" y="208.7" font-size="8.3" fill="#333" text-anchor="start" textLength="18.2" lengthAdjust="spacingAndGlyphs" stroke="#333" stroke-width="0.18">CD41</text>
<line x1="314.4" y1="159.9" x2="314.4" y2="210.7" stroke="#222" stroke-width="1.2"/>
<line x1="311.4" y1="160.5" x2="314.4" y2="160.5" stroke="#222" stroke-width="0.9"/>
<text x="308.6" y="163.3" font-size="6.7" fill="#2b2b2b" text-anchor="end" stroke="#2b2b2b" stroke-width="0.18">40</text>
<line x1="311.4" y1="172.9" x2="314.4" y2="172.9" stroke="#222" stroke-width="0.9"/>
<text x="308.6" y="175.7" font-size="6.7" fill="#2b2b2b" text-anchor="end" stroke="#2b2b2b" stroke-width="0.18">30</text>
<line x1="311.4" y1="185.3" x2="314.4" y2="185.3" stroke="#222" stroke-width="0.9"/>
<text x="308.6" y="188.1" font-size="6.7" fill="#2b2b2b" text-anchor="end" stroke="#2b2b2b" stroke-width="0.18">20</text>
<line x1="311.4" y1="197.7" x2="314.4" y2="197.7" stroke="#222" stroke-width="0.9"/>
<text x="308.6" y="200.5" font-size="6.7" fill="#2b2b2b" text-anchor="end" stroke="#2b2b2b" stroke-width="0.18">10</text>
<line x1="311.4" y1="210.1" x2="314.4" y2="210.1" stroke="#222" stroke-width="0.9"/>
<text x="308.6" y="212.9" font-size="6.7" fill="#2b2b2b" text-anchor="end" stroke="#2b2b2b" stroke-width="0.18">0</text>
<rect x="317.1" y="171.5" width="5.9" height="38.6" fill="#0f664c" stroke="none" stroke-width="0"/>
<rect x="326.1" y="166.5" width="5.3" height="43.6" fill="#37a83c" stroke="none" stroke-width="0"/>
<circle cx="318.6" cy="170.5" r="1.45" fill="#0d4434" stroke="none" stroke-width="0.6"/>
<circle cx="321.3" cy="171.2" r="1.45" fill="#0d4434" stroke="none" stroke-width="0.6"/>
<circle cx="319.8" cy="172.8" r="1.45" fill="#0d4434" stroke="none" stroke-width="0.6"/>
<circle cx="327.5" cy="166.5" r="1.45" fill="#2a7f34" stroke="none" stroke-width="0.6"/>
<circle cx="329.7" cy="164.5" r="1.45" fill="#2a7f34" stroke="none" stroke-width="0.6"/>
<circle cx="330.3" cy="167" r="1.45" fill="#2a7f34" stroke="none" stroke-width="0.6"/>
<line x1="314.4" y1="210.1" x2="334.3" y2="210.1" stroke="#222" stroke-width="1.1"/>
<line x1="319.9" y1="210.1" x2="319.9" y2="212.1" stroke="#222" stroke-width="0.9"/>
<line x1="328.6" y1="210.1" x2="328.6" y2="212.1" stroke="#222" stroke-width="0.9"/>
<polyline points="320.4,163.6 320.4,148.6 328.5,148.6 328.5,157.2" stroke="#8a8a8a" stroke-width="0.75" fill="none"/>
<circle cx="322.75" cy="144.9" r="0.95" fill="#2e2e2e" stroke="none" stroke-width="0"/>
<path d="M322.75,143.8 l0,2.2 M321.65,144.9 l2.2,0" stroke="#2e2e2e" stroke-width="0.35"/>
<circle cx="325.85" cy="144.9" r="0.95" fill="#2e2e2e" stroke="none" stroke-width="0"/>
<path d="M325.85,143.8 l0,2.2 M324.75,144.9 l2.2,0" stroke="#2e2e2e" stroke-width="0.35"/>
<text x="283.2" y="183.7" font-size="8" fill="#333" text-anchor="middle" transform="rotate(-90 283.2 183.7)" textLength="78.6" lengthAdjust="spacingAndGlyphs" stroke="#333" stroke-width="0.18">% of platelet aggregating</text>
<text x="294.8" y="184.5" font-size="8" fill="#333" text-anchor="middle" transform="rotate(-90 294.8 184.5)" textLength="27" lengthAdjust="spacingAndGlyphs" stroke="#333" stroke-width="0.18">to Ly6G+</text>
<text x="323.7" y="218.6" font-size="7" fill="#333" text-anchor="end" transform="rotate(-45 323.7 218.6)" stroke="#333" stroke-width="0.18">WT</text>
<text x="332.4" y="219.4" font-size="7" fill="#333" text-anchor="end" transform="rotate(-45 332.4 219.4)" stroke="#333" stroke-width="0.18">DKO</text>
<text x="345.4" y="132.4" font-size="12.2" fill="#111" text-anchor="start" font-weight="bold" stroke="#111" stroke-width="0.35">E</text>
<text x="349.6" y="142.5" font-size="6.9" fill="#1f5f5a" text-anchor="start" textLength="9.6" lengthAdjust="spacingAndGlyphs" stroke="#1f5f5a" stroke-width="0.1">WT</text>
<text x="349.6" y="150.5" font-size="6.9" fill="#c2c2c2" text-anchor="start" textLength="23" lengthAdjust="spacingAndGlyphs" stroke="#c2c2c2" stroke-width="0.05">BAK KO</text>
<text x="349.6" y="157.8" font-size="6.9" fill="#cdd8c0" text-anchor="start" textLength="12.5" lengthAdjust="spacingAndGlyphs" stroke="#cdd8c0" stroke-width="0.05">BAX</text>
<text x="362.4" y="154.2" font-size="4" fill="#dde5d5" text-anchor="start">plt-/-</text>
<text x="349.6" y="166.4" font-size="6.9" fill="#4caf50" text-anchor="start" textLength="27" lengthAdjust="spacingAndGlyphs" stroke="#4caf50" stroke-width="0.05">BAK/BAX</text>
<text x="377.2" y="162.8" font-size="4" fill="#9fd29f" text-anchor="start">plt-/-</text>
<text x="390.2" y="166.4" font-size="6.9" fill="#4caf50" text-anchor="start" textLength="10.6" lengthAdjust="spacingAndGlyphs" stroke="#4caf50" stroke-width="0.05">KO</text>
<text x="349.6" y="174.4" font-size="6.9" fill="#a4a4a4" text-anchor="start" textLength="42" lengthAdjust="spacingAndGlyphs" stroke="#a4a4a4" stroke-width="0.05">Rej. BAK/BAX</text>
<text x="392.2" y="170.8" font-size="4" fill="#c8c8c8" text-anchor="start">plt-/-</text>
<text x="404" y="174.4" font-size="6.9" fill="#a4a4a4" text-anchor="start" textLength="10.3" lengthAdjust="spacingAndGlyphs" stroke="#a4a4a4" stroke-width="0.05">KO</text>
<ellipse cx="357" cy="196" rx="7" ry="6" fill="#fbeaea" opacity="0.35" filter="url(#b2)"/>
<path d="M349,207.6 C355,207.5 360,207 365,205.5" stroke="#c89890" stroke-width="0.6" fill="none"/>
<ellipse cx="368.8" cy="197.2" rx="3.9" ry="9.3" fill="#5a3030" opacity="1" transform="rotate(30 368.8 197.2)"/>
<ellipse cx="368.6" cy="197.6" rx="3" ry="7.9" fill="#d27a62" opacity="1" transform="rotate(30 368.6 197.6)"/>
<ellipse cx="373.2" cy="190" rx="2.2" ry="3.2" fill="#6a4444" opacity="1" transform="rotate(30 373.2 190)"/>
<ellipse cx="372.2" cy="191.5" rx="1.2" ry="1.5" fill="#c07060" opacity="0.8" transform="rotate(30 372.2 191.5)"/>
<line x1="374.5" y1="187.5" x2="377.3" y2="182.7" stroke="#999" stroke-width="0.4"/>
<line x1="365.5" y1="204.5" x2="364.5" y2="207.5" stroke="#5a3030" stroke-width="0.7"/>
<line x1="369" y1="205.5" x2="370" y2="208" stroke="#5a3030" stroke-width="0.7"/>
<text x="380.7" y="187.2" font-size="6.8" fill="#333" text-anchor="start" textLength="20.8" lengthAdjust="spacingAndGlyphs" stroke="#333" stroke-width="0.18">LPS i.n.</text>
<circle cx="397.5" cy="196.4" r="11.5" fill="url(#glow)" stroke="none" stroke-width="0"/>
<path d="M397,191.5 C395,191.5 392.5,194 392.5,198 C392.5,201 394.5,201.5 396.8,200 Z" fill="#5a4444"/>
<path d="M398,191.5 C400,191.5 402.5,194 402.5,198 C402.5,201 400.5,201.5 398.2,200 Z" fill="#5a4444"/>
<ellipse cx="395" cy="197" rx="1" ry="2" fill="#8a5050" opacity="0.6"/>
<ellipse cx="400" cy="197" rx="1" ry="2" fill="#8a5050" opacity="0.6"/>
<line x1="397.5" y1="190" x2="397.5" y2="194" stroke="#6a5050" stroke-width="0.6"/>
<line x1="382.7" y1="200.9" x2="382.7" y2="206.5" stroke="#3a9ad8" stroke-width="0.8"/>
<polygon points="381.4,205.5 382.7,208.3 384,205.5" stroke="#3a9ad8" stroke-width="0.5" fill="#3a9ad8"/>
<line x1="382.7" y1="208.9" x2="409.3" y2="208.9" stroke="#777" stroke-width="1.3"/>
<text x="382.3" y="217.3" font-size="6.5" fill="#333" text-anchor="middle" stroke="#333" stroke-width="0.18">0</text>
<text x="408.7" y="217.3" font-size="6.5" fill="#333" text-anchor="middle" stroke="#333" stroke-width="0.18">8</text>
<line x1="408.7" y1="218.5" x2="408.7" y2="224" stroke="#222" stroke-width="0.8"/>
<polygon points="407.4,222.5 408.7,225.3 410,222.5" stroke="#222" stroke-width="0.5" fill="#222"/>
<text x="395" y="235" font-size="6.8" fill="#333" text-anchor="start" textLength="15.3" lengthAdjust="spacingAndGlyphs" stroke="#333" stroke-width="0.18">BALF</text>
<text x="431" y="132.2" font-size="12.2" fill="#111" text-anchor="start" font-weight="bold" stroke="#111" stroke-width="0.35">F</text>
<text x="475.4" y="136.1" font-size="8.3" fill="#333" text-anchor="start" textLength="21.4" lengthAdjust="spacingAndGlyphs" stroke="#333" stroke-width="0.18">BALF</text>
<line x1="458.1" y1="138.7" x2="512.2" y2="138.7" stroke="#555" stroke-width="1"/>
<line x1="459.2" y1="161.2" x2="459.2" y2="212.1" stroke="#222" stroke-width="1.2"/>
<line x1="456.2" y1="161.8" x2="459.2" y2="161.8" stroke="#222" stroke-width="0.9"/>
<text x="453.4" y="164.6" font-size="6.7" fill="#2b2b2b" text-anchor="end" stroke="#2b2b2b" stroke-width="0.18">250</text>
<line x1="456.2" y1="171.7" x2="459.2" y2="171.7" stroke="#222" stroke-width="0.9"/>
<text x="453.4" y="174.5" font-size="6.7" fill="#2b2b2b" text-anchor="end" stroke="#2b2b2b" stroke-width="0.18">200</text>
<line x1="456.2" y1="181.7" x2="459.2" y2="181.7" stroke="#222" stroke-width="0.9"/>
<text x="453.4" y="184.5" font-size="6.7" fill="#2b2b2b" text-anchor="end" stroke="#2b2b2b" stroke-width="0.18">150</text>
<line x1="456.2" y1="191.6" x2="459.2" y2="191.6" stroke="#222" stroke-width="0.9"/>
<text x="453.4" y="194.4" font-size="6.7" fill="#2b2b2b" text-anchor="end" stroke="#2b2b2b" stroke-width="0.18">100</text>
<line x1="456.2" y1="201.5" x2="459.2" y2="201.5" stroke="#222" stroke-width="0.9"/>
<text x="453.4" y="204.3" font-size="6.7" fill="#2b2b2b" text-anchor="end" stroke="#2b2b2b" stroke-width="0.18">50</text>
<line x1="456.2" y1="211.5" x2="459.2" y2="211.5" stroke="#222" stroke-width="0.9"/>
<text x="453.4" y="214.3" font-size="6.7" fill="#2b2b2b" text-anchor="end" stroke="#2b2b2b" stroke-width="0.18">0</text>
<rect x="462.7" y="206.5" width="5.4" height="5" fill="#0f664c" stroke="none" stroke-width="0"/>
<rect x="472.2" y="195.2" width="6.2" height="16.3" fill="#dadada" stroke="none" stroke-width="0"/>
<rect x="482.3" y="195.8" width="6.2" height="15.7" fill="#c9e2b7" stroke="none" stroke-width="0"/>
<rect x="492.9" y="190.4" width="6.3" height="21.1" fill="#37a83c" stroke="none" stroke-width="0"/>
<rect x="502.6" y="206.6" width="6.1" height="4.9" fill="#6a8580" stroke="none" stroke-width="0"/>
<circle cx="465.5" cy="202.6" r="1.5" fill="#0d4434" stroke="none" stroke-width="0.6"/>
<circle cx="464.6" cy="205" r="1.5" fill="#0d4434" stroke="none" stroke-width="0.6"/>
<circle cx="466.6" cy="205.6" r="1.5" fill="#0d4434" stroke="none" stroke-width="0.6"/>
<circle cx="463.8" cy="207.6" r="1.5" fill="#0d4434" stroke="none" stroke-width="0.6"/>
<circle cx="465.6" cy="208" r="1.5" fill="#0d4434" stroke="none" stroke-width="0.6"/>
<circle cx="467.4" cy="208.2" r="1.5" fill="#0d4434" stroke="none" stroke-width="0.6"/>
<circle cx="463.6" cy="210" r="1.5" fill="#0d4434" stroke="none" stroke-width="0.6"/>
<circle cx="465.5" cy="210.3" r="1.5" fill="#0d4434" stroke="none" stroke-width="0.6"/>
<circle cx="467.5" cy="210" r="1.5" fill="#0d4434" stroke="none" stroke-width="0.6"/>
<circle cx="475.5" cy="181.7" r="1.45" fill="#fff" stroke="#707070" stroke-width="0.6"/>
<circle cx="475.5" cy="187.7" r="1.45" fill="#fff" stroke="#707070" stroke-width="0.6"/>
<circle cx="473.5" cy="196" r="1.45" fill="#fff" stroke="#707070" stroke-width="0.6"/>
<circle cx="476.5" cy="197" r="1.45" fill="#fff" stroke="#707070" stroke-width="0.6"/>
<circle cx="474.5" cy="200" r="1.45" fill="#fff" stroke="#707070" stroke-width="0.6"/>
<circle cx="477.5" cy="200.5" r="1.45" fill="#fff" stroke="#707070" stroke-width="0.6"/>
<circle cx="475" cy="203" r="1.45" fill="#fff" stroke="#707070" stroke-width="0.6"/>
<circle cx="477" cy="204" r="1.45" fill="#fff" stroke="#707070" stroke-width="0.6"/>
<circle cx="485.5" cy="188" r="1.45" fill="#eef6e8" stroke="#6f9060" stroke-width="0.6"/>
<circle cx="487.5" cy="188.5" r="1.45" fill="#eef6e8" stroke="#6f9060" stroke-width="0.6"/>
<circle cx="484" cy="191" r="1.45" fill="#eef6e8" stroke="#6f9060" stroke-width="0.6"/>
<circle cx="486.5" cy="194" r="1.45" fill="#eef6e8" stroke="#6f9060" stroke-width="0.6"/>
<circle cx="484.5" cy="197" r="1.45" fill="#eef6e8" stroke="#6f9060" stroke-width="0.6"/>
<circle cx="487" cy="199" r="1.45" fill="#eef6e8" stroke="#6f9060" stroke-width="0.6"/>
<circle cx="485.5" cy="201" r="1.45" fill="#eef6e8" stroke="#6f9060" stroke-width="0.6"/>
<circle cx="483.5" cy="203" r="1.45" fill="#eef6e8" stroke="#6f9060" stroke-width="0.6"/>
<circle cx="495.7" cy="168" r="1.5" fill="#2a7d33" stroke="none" stroke-width="0.6"/>
<circle cx="495.7" cy="172" r="1.5" fill="#2a7d33" stroke="none" stroke-width="0.6"/>
<circle cx="495.7" cy="182.7" r="1.5" fill="#2a7d33" stroke="none" stroke-width="0.6"/>
<circle cx="495.7" cy="187" r="1.5" fill="#2a7d33" stroke="none" stroke-width="0.6"/>
<circle cx="494" cy="193" r="1.5" fill="#2a7d33" stroke="none" stroke-width="0.6"/>
<circle cx="497.5" cy="196" r="1.5" fill="#2a7d33" stroke="none" stroke-width="0.6"/>
<circle cx="495" cy="199.5" r="1.5" fill="#2a7d33" stroke="none" stroke-width="0.6"/>
<circle cx="497.5" cy="203" r="1.5" fill="#2a7d33" stroke="none" stroke-width="0.6"/>
<circle cx="494.5" cy="206" r="1.5" fill="#2a7d33" stroke="none" stroke-width="0.6"/>
<circle cx="496.5" cy="208.5" r="1.5" fill="#2a7d33" stroke="none" stroke-width="0.6"/>
<circle cx="504.5" cy="209.5" r="1.4" fill="#9ab0aa" stroke="#3e5250" stroke-width="0.6"/>
<circle cx="507" cy="209.5" r="1.4" fill="#9ab0aa" stroke="#3e5250" stroke-width="0.6"/>
<line x1="475.3" y1="191.7" x2="475.3" y2="198.7" stroke="#555" stroke-width="0.6"/>
<line x1="474" y1="191.7" x2="476.6" y2="191.7" stroke="#555" stroke-width="0.6"/>
<line x1="485.4" y1="192.3" x2="485.4" y2="199.3" stroke="#555" stroke-width="0.6"/>
<line x1="484.1" y1="192.3" x2="486.7" y2="192.3" stroke="#555" stroke-width="0.6"/>
<line x1="496" y1="186.4" x2="496" y2="194.4" stroke="#1d5e25" stroke-width="0.6"/>
<line x1="494.7" y1="186.4" x2="497.3" y2="186.4" stroke="#1d5e25" stroke-width="0.6"/>
<line x1="459.2" y1="211.5" x2="513" y2="211.5" stroke="#222" stroke-width="1.1"/>
<line x1="465.3" y1="211.5" x2="465.3" y2="213.5" stroke="#222" stroke-width="0.9"/>
<line x1="475.5" y1="211.5" x2="475.5" y2="213.5" stroke="#222" stroke-width="0.9"/>
<line x1="485.8" y1="211.5" x2="485.8" y2="213.5" stroke="#222" stroke-width="0.9"/>
<line x1="495.7" y1="211.5" x2="495.7" y2="213.5" stroke="#222" stroke-width="0.9"/>
<line x1="505.9" y1="211.5" x2="505.9" y2="213.5" stroke="#222" stroke-width="0.9"/>
<polyline points="465.6,153.8 465.6,149 505.5,149 505.5,204.9" stroke="#8a8a8a" stroke-width="0.75" fill="none"/>
<polyline points="465.6,160.5 465.6,157 495.5,157 495.5,163.4" stroke="#8a8a8a" stroke-width="0.75" fill="none"/>
<polyline points="465.6,169 465.6,165 485.2,165 485.2,181.7" stroke="#8a8a8a" stroke-width="0.75" fill="none"/>
<polyline points="465.6,199.3 465.6,174.6 476,174.6 476,178.5" stroke="#8a8a8a" stroke-width="0.75" fill="none"/>
<text x="482.5" y="147.3" font-size="6.5" fill="#333" text-anchor="middle" stroke="#333" stroke-width="0.18">ns</text>
<circle cx="477.1" cy="154.4" r="0.95" fill="#2e2e2e" stroke="none" stroke-width="0"/>
<path d="M477.1,153.3 l0,2.2 M476,154.4 l2.2,0" stroke="#2e2e2e" stroke-width="0.35"/>
<circle cx="480.2" cy="154.4" r="0.95" fill="#2e2e2e" stroke="none" stroke-width="0"/>
<path d="M480.2,153.3 l0,2.2 M479.1,154.4 l2.2,0" stroke="#2e2e2e" stroke-width="0.35"/>
<circle cx="483.3" cy="154.4" r="0.95" fill="#2e2e2e" stroke="none" stroke-width="0"/>
<path d="M483.3,153.3 l0,2.2 M482.2,154.4 l2.2,0" stroke="#2e2e2e" stroke-width="0.35"/>
<circle cx="475.3" cy="162" r="0.95" fill="#2e2e2e" stroke="none" stroke-width="0"/>
<path d="M475.3,160.9 l0,2.2 M474.2,162 l2.2,0" stroke="#2e2e2e" stroke-width="0.35"/>
<circle cx="470.2" cy="171.7" r="0.95" fill="#2e2e2e" stroke="none" stroke-width="0"/>
<path d="M470.2,170.6 l0,2.2 M469.1,171.7 l2.2,0" stroke="#2e2e2e" stroke-width="0.35"/>
<text x="435.3" y="184.8" font-size="8" fill="#333" text-anchor="middle" transform="rotate(-90 435.3 184.8)" textLength="42" lengthAdjust="spacingAndGlyphs" stroke="#333" stroke-width="0.18">#PNA/µl BALF</text>
<text x="470" y="221" font-size="6.9" fill="#333" text-anchor="end" transform="rotate(-45 470 221)" stroke="#333" stroke-width="0.18">WT</text>
<text x="480" y="221" font-size="6.9" fill="#333" text-anchor="end" transform="rotate(-45 480 221)" stroke="#333" stroke-width="0.18">BAK KO</text>
<text x="490.3" y="221" font-size="6.9" fill="#333" text-anchor="end" transform="rotate(-45 490.3 221)" stroke="#333" stroke-width="0.18">BAX<tspan font-size="3.8" dy="-2.6" fill="#999" stroke="#999" stroke-width="0.1">plt-/-</tspan></text>
<text x="500.3" y="221" font-size="6.9" fill="#333" text-anchor="end" transform="rotate(-45 500.3 221)" stroke="#333" stroke-width="0.18">BAK BAX<tspan font-size="3.8" dy="-2.6" fill="#999" stroke="#999" stroke-width="0.1">plt-/-</tspan><tspan dy="2.6"> KO</tspan></text>
<text x="510.3" y="221" font-size="6.9" fill="#333" text-anchor="end" transform="rotate(-45 510.3 221)" stroke="#333" stroke-width="0.18">Rej. BAK BAX<tspan font-size="3.8" dy="-2.6" fill="#999" stroke="#999" stroke-width="0.1">plt-/-</tspan><tspan dy="2.6"> KO</tspan></text>
<text x="7" y="250" font-size="12.2" fill="#111" text-anchor="start" font-weight="bold" stroke="#111" stroke-width="0.35">G</text>
<text x="123.9" y="258.6" font-size="8.3" fill="#333" text-anchor="start" textLength="21.4" lengthAdjust="spacingAndGlyphs" stroke="#333" stroke-width="0.18">BALF</text>
<line x1="36.3" y1="260.8" x2="232" y2="260.8" stroke="#9a9a9a" stroke-width="1.8"/>
<line x1="46.2" y1="292.9" x2="46.2" y2="344.1" stroke="#222" stroke-width="1.2"/>
<line x1="43.2" y1="293.5" x2="46.2" y2="293.5" stroke="#222" stroke-width="0.9"/>
<text x="40.4" y="296.3" font-size="6.7" fill="#2b2b2b" text-anchor="end" stroke="#2b2b2b" stroke-width="0.18">250</text>
<line x1="43.2" y1="303.5" x2="46.2" y2="303.5" stroke="#222" stroke-width="0.9"/>
<text x="40.4" y="306.3" font-size="6.7" fill="#2b2b2b" text-anchor="end" stroke="#2b2b2b" stroke-width="0.18">200</text>
<line x1="43.2" y1="313.5" x2="46.2" y2="313.5" stroke="#222" stroke-width="0.9"/>
<text x="40.4" y="316.3" font-size="6.7" fill="#2b2b2b" text-anchor="end" stroke="#2b2b2b" stroke-width="0.18">150</text>
<line x1="43.2" y1="323.5" x2="46.2" y2="323.5" stroke="#222" stroke-width="0.9"/>
<text x="40.4" y="326.3" font-size="6.7" fill="#2b2b2b" text-anchor="end" stroke="#2b2b2b" stroke-width="0.18">100</text>
<line x1="43.2" y1="333.5" x2="46.2" y2="333.5" stroke="#222" stroke-width="0.9"/>
<text x="40.4" y="336.3" font-size="6.7" fill="#2b2b2b" text-anchor="end" stroke="#2b2b2b" stroke-width="0.18">50</text>
<line x1="43.2" y1="343.5" x2="46.2" y2="343.5" stroke="#222" stroke-width="0.9"/>
<text x="40.4" y="346.3" font-size="6.7" fill="#2b2b2b" text-anchor="end" stroke="#2b2b2b" stroke-width="0.18">0</text>
<rect x="49.5" y="336" width="6.5" height="7.5" fill="#0f664c" stroke="none" stroke-width="0"/>
<rect x="59.3" y="327" width="7.2" height="16.5" fill="#dadada" stroke="none" stroke-width="0"/>
<rect x="69.7" y="328" width="6.9" height="15.5" fill="#c9e2b7" stroke="none" stroke-width="0"/>
<rect x="79.5" y="321.5" width="6.8" height="22" fill="#37a83c" stroke="none" stroke-width="0"/>
<rect x="89.6" y="339" width="6.9" height="4.5" fill="#6a8580" stroke="none" stroke-width="0"/>
<rect x="49.6" y="338" width="6" height="5.5" fill="#0f664c" stroke="none" stroke-width="0"/>
<circle cx="52.6" cy="334.6" r="1.5" fill="#0d4434" stroke="none" stroke-width="0.6"/>
<circle cx="51.8" cy="337.2" r="1.5" fill="#0d4434" stroke="none" stroke-width="0.6"/>
<circle cx="53.6" cy="337.6" r="1.5" fill="#0d4434" stroke="none" stroke-width="0.6"/>
<circle cx="50.8" cy="339.5" r="1.5" fill="#0d4434" stroke="none" stroke-width="0.6"/>
<circle cx="52.6" cy="340" r="1.5" fill="#0d4434" stroke="none" stroke-width="0.6"/>
<circle cx="54.6" cy="339.8" r="1.5" fill="#0d4434" stroke="none" stroke-width="0.6"/>
<circle cx="50.6" cy="342" r="1.5" fill="#0d4434" stroke="none" stroke-width="0.6"/>
<circle cx="52.6" cy="342.2" r="1.5" fill="#0d4434" stroke="none" stroke-width="0.6"/>
<circle cx="54.6" cy="342" r="1.5" fill="#0d4434" stroke="none" stroke-width="0.6"/>
<circle cx="63" cy="313.5" r="1.45" fill="#fff" stroke="#707070" stroke-width="0.6"/>
<circle cx="63" cy="319.5" r="1.45" fill="#fff" stroke="#707070" stroke-width="0.6"/>
<circle cx="61" cy="327" r="1.45" fill="#fff" stroke="#707070" stroke-width="0.6"/>
<circle cx="64" cy="328" r="1.45" fill="#fff" stroke="#707070" stroke-width="0.6"/>
<circle cx="62" cy="331" r="1.45" fill="#fff" stroke="#707070" stroke-width="0.6"/>
<circle cx="65" cy="332" r="1.45" fill="#fff" stroke="#707070" stroke-width="0.6"/>
<circle cx="62.5" cy="335" r="1.45" fill="#fff" stroke="#707070" stroke-width="0.6"/>
<circle cx="64.5" cy="336" r="1.45" fill="#fff" stroke="#707070" stroke-width="0.6"/>
<circle cx="71.5" cy="316.5" r="1.45" fill="#eef6e8" stroke="#6f9060" stroke-width="0.6"/>
<circle cx="74.5" cy="317" r="1.45" fill="#eef6e8" stroke="#6f9060" stroke-width="0.6"/>
<circle cx="73" cy="321" r="1.45" fill="#eef6e8" stroke="#6f9060" stroke-width="0.6"/>
<circle cx="72" cy="325" r="1.45" fill="#eef6e8" stroke="#6f9060" stroke-width="0.6"/>
<circle cx="75" cy="328" r="1.45" fill="#eef6e8" stroke="#6f9060" stroke-width="0.6"/>
<circle cx="73" cy="331" r="1.45" fill="#eef6e8" stroke="#6f9060" stroke-width="0.6"/>
<circle cx="71.5" cy="334" r="1.45" fill="#eef6e8" stroke="#6f9060" stroke-width="0.6"/>
<circle cx="74" cy="336" r="1.45" fill="#eef6e8" stroke="#6f9060" stroke-width="0.6"/>
<circle cx="83" cy="297.5" r="1.5" fill="#2a7d33" stroke="none" stroke-width="0.6"/>
<circle cx="83" cy="304" r="1.5" fill="#2a7d33" stroke="none" stroke-width="0.6"/>
<circle cx="83" cy="313.5" r="1.5" fill="#2a7d33" stroke="none" stroke-width="0.6"/>
<circle cx="83" cy="318.5" r="1.5" fill="#2a7d33" stroke="none" stroke-width="0.6"/>
<circle cx="81.5" cy="324" r="1.5" fill="#2a7d33" stroke="none" stroke-width="0.6"/>
<circle cx="84.5" cy="327" r="1.5" fill="#2a7d33" stroke="none" stroke-width="0.6"/>
<circle cx="82" cy="331" r="1.5" fill="#2a7d33" stroke="none" stroke-width="0.6"/>
<circle cx="84.5" cy="335" r="1.5" fill="#2a7d33" stroke="none" stroke-width="0.6"/>
<circle cx="81.5" cy="338.5" r="1.5" fill="#2a7d33" stroke="none" stroke-width="0.6"/>
<circle cx="83.5" cy="341" r="1.5" fill="#2a7d33" stroke="none" stroke-width="0.6"/>
<circle cx="91.5" cy="341.5" r="1.4" fill="#9ab0aa" stroke="#3e5250" stroke-width="0.6"/>
<circle cx="94.5" cy="341.5" r="1.4" fill="#9ab0aa" stroke="#3e5250" stroke-width="0.6"/>
<line x1="62.8" y1="323.5" x2="62.8" y2="330.5" stroke="#555" stroke-width="0.6"/>
<line x1="61.5" y1="323.5" x2="64.1" y2="323.5" stroke="#555" stroke-width="0.6"/>
<line x1="73.1" y1="324.5" x2="73.1" y2="331.5" stroke="#555" stroke-width="0.6"/>
<line x1="71.8" y1="324.5" x2="74.4" y2="324.5" stroke="#555" stroke-width="0.6"/>
<line x1="82.9" y1="317.5" x2="82.9" y2="325.5" stroke="#1d5e25" stroke-width="0.6"/>
<line x1="81.6" y1="317.5" x2="84.2" y2="317.5" stroke="#1d5e25" stroke-width="0.6"/>
<line x1="46.2" y1="343.5" x2="99.4" y2="343.5" stroke="#222" stroke-width="1.1"/>
<line x1="52.8" y1="343.5" x2="52.8" y2="345.5" stroke="#222" stroke-width="0.9"/>
<line x1="62.9" y1="343.5" x2="62.9" y2="345.5" stroke="#222" stroke-width="0.9"/>
<line x1="73.1" y1="343.5" x2="73.1" y2="345.5" stroke="#222" stroke-width="0.9"/>
<line x1="82.9" y1="343.5" x2="82.9" y2="345.5" stroke="#222" stroke-width="0.9"/>
<line x1="93" y1="343.5" x2="93" y2="345.5" stroke="#222" stroke-width="0.9"/>
<polyline points="52.7,274.2 52.7,269.7 93.9,269.7 93.9,336.3" stroke="#8a8a8a" stroke-width="0.75" fill="none"/>
<polyline points="52.7,286.4 52.7,282.4 82.7,282.4 82.7,294.6" stroke="#8a8a8a" stroke-width="0.75" fill="none"/>
<polyline points="52.7,299.7 52.7,296.6 72.5,296.6 72.5,312.9" stroke="#8a8a8a" stroke-width="0.75" fill="none"/>
<polyline points="52.7,331.2 52.7,308.4 62.3,308.4 62.3,312.5" stroke="#8a8a8a" stroke-width="0.75" fill="none"/>
<text x="73.5" y="266" font-size="6.5" fill="#333" text-anchor="middle" stroke="#333" stroke-width="0.18">ns</text>
<circle cx="64.3" cy="279.3" r="0.95" fill="#2e2e2e" stroke="none" stroke-width="0"/>
<path d="M64.3,278.2 l0,2.2 M63.2,279.3 l2.2,0" stroke="#2e2e2e" stroke-width="0.35"/>
<circle cx="67.4" cy="279.3" r="0.95" fill="#2e2e2e" stroke="none" stroke-width="0"/>
<path d="M67.4,278.2 l0,2.2 M66.3,279.3 l2.2,0" stroke="#2e2e2e" stroke-width="0.35"/>
<circle cx="70.5" cy="279.3" r="0.95" fill="#2e2e2e" stroke="none" stroke-width="0"/>
<path d="M70.5,278.2 l0,2.2 M69.4,279.3 l2.2,0" stroke="#2e2e2e" stroke-width="0.35"/>
<circle cx="63.5" cy="292.5" r="0.95" fill="#2e2e2e" stroke="none" stroke-width="0"/>
<path d="M63.5,291.4 l0,2.2 M62.4,292.5 l2.2,0" stroke="#2e2e2e" stroke-width="0.35"/>
<circle cx="58" cy="304.8" r="0.95" fill="#2e2e2e" stroke="none" stroke-width="0"/>
<path d="M58,303.7 l0,2.2 M56.9,304.8 l2.2,0" stroke="#2e2e2e" stroke-width="0.35"/>
<text x="23" y="318" font-size="8" fill="#333" text-anchor="middle" transform="rotate(-90 23 318)" textLength="84" lengthAdjust="spacingAndGlyphs" stroke="#333" stroke-width="0.18">Neutrophils [cells/µL BALF]</text>
<text x="57" y="353" font-size="6.9" fill="#333" text-anchor="end" transform="rotate(-45 57 353)" stroke="#333" stroke-width="0.18">WT</text>
<text x="67" y="353" font-size="6.9" fill="#333" text-anchor="end" transform="rotate(-45 67 353)" stroke="#333" stroke-width="0.18">BAK KO</text>
<text x="77.2" y="353" font-size="6.9" fill="#333" text-anchor="end" transform="rotate(-45 77.2 353)" stroke="#333" stroke-width="0.18">BAX<tspan font-size="3.8" dy="-2.6" fill="#999" stroke="#999" stroke-width="0.1">plt-/-</tspan></text>
<text x="87" y="353" font-size="6.9" fill="#333" text-anchor="end" transform="rotate(-45 87 353)" stroke="#333" stroke-width="0.18">BAK BAX<tspan font-size="3.8" dy="-2.6" fill="#999" stroke="#999" stroke-width="0.1">plt-/-</tspan><tspan dy="2.6"> KO</tspan></text>
<text x="97.3" y="353" font-size="6.9" fill="#333" text-anchor="end" transform="rotate(-45 97.3 353)" stroke="#333" stroke-width="0.18">Rej. BAK BAX<tspan font-size="3.8" dy="-2.6" fill="#999" stroke="#999" stroke-width="0.1">plt-/-</tspan><tspan dy="2.6"> KO</tspan></text>
<line x1="176.6" y1="294.1" x2="176.6" y2="344.1" stroke="#222" stroke-width="1.2"/>
<line x1="173.6" y1="294.7" x2="176.6" y2="294.7" stroke="#222" stroke-width="0.9"/>
<text x="170.8" y="297.5" font-size="6.7" fill="#2b2b2b" text-anchor="end" stroke="#2b2b2b" stroke-width="0.18">1500</text>
<line x1="173.6" y1="311" x2="176.6" y2="311" stroke="#222" stroke-width="0.9"/>
<text x="170.8" y="313.8" font-size="6.7" fill="#2b2b2b" text-anchor="end" stroke="#2b2b2b" stroke-width="0.18">1000</text>
<line x1="173.6" y1="327.2" x2="176.6" y2="327.2" stroke="#222" stroke-width="0.9"/>
<text x="170.8" y="330" font-size="6.7" fill="#2b2b2b" text-anchor="end" stroke="#2b2b2b" stroke-width="0.18">500</text>
<line x1="173.6" y1="343.5" x2="176.6" y2="343.5" stroke="#222" stroke-width="0.9"/>
<text x="170.8" y="346.3" font-size="6.7" fill="#2b2b2b" text-anchor="end" stroke="#2b2b2b" stroke-width="0.18">0</text>
<rect x="180" y="338.5" width="6.4" height="5" fill="#0f664c" stroke="none" stroke-width="0"/>
<rect x="190.5" y="322.5" width="6.2" height="21" fill="#dadada" stroke="none" stroke-width="0"/>
<rect x="200.4" y="323.7" width="6.6" height="19.8" fill="#c9e2b7" stroke="none" stroke-width="0"/>
<rect x="210.2" y="325.7" width="6.6" height="17.8" fill="#37a83c" stroke="none" stroke-width="0"/>
<rect x="220.5" y="339.7" width="6.2" height="3.8" fill="#6a8580" stroke="none" stroke-width="0"/>
<circle cx="183.1" cy="332.6" r="1.5" fill="#0d4434" stroke="none" stroke-width="0.6"/>
<circle cx="183.1" cy="335" r="1.5" fill="#0d4434" stroke="none" stroke-width="0.6"/>
<circle cx="182.2" cy="337" r="1.5" fill="#0d4434" stroke="none" stroke-width="0.6"/>
<circle cx="184.1" cy="337.4" r="1.5" fill="#0d4434" stroke="none" stroke-width="0.6"/>
<circle cx="181.4" cy="339.5" r="1.5" fill="#0d4434" stroke="none" stroke-width="0.6"/>
<circle cx="183.1" cy="339.8" r="1.5" fill="#0d4434" stroke="none" stroke-width="0.6"/>
<circle cx="184.9" cy="339.6" r="1.5" fill="#0d4434" stroke="none" stroke-width="0.6"/>
<circle cx="181.2" cy="342" r="1.5" fill="#0d4434" stroke="none" stroke-width="0.6"/>
<circle cx="183.1" cy="342.2" r="1.5" fill="#0d4434" stroke="none" stroke-width="0.6"/>
<circle cx="185" cy="342" r="1.5" fill="#0d4434" stroke="none" stroke-width="0.6"/>
<circle cx="192" cy="307.5" r="1.45" fill="#fff" stroke="#707070" stroke-width="0.6"/>
<circle cx="195" cy="308.5" r="1.45" fill="#fff" stroke="#707070" stroke-width="0.6"/>
<circle cx="193.5" cy="311" r="1.45" fill="#fff" stroke="#707070" stroke-width="0.6"/>
<circle cx="192.5" cy="318" r="1.45" fill="#fff" stroke="#707070" stroke-width="0.6"/>
<circle cx="195" cy="322" r="1.45" fill="#fff" stroke="#707070" stroke-width="0.6"/>
<circle cx="192" cy="327" r="1.45" fill="#fff" stroke="#707070" stroke-width="0.6"/>
<circle cx="194.5" cy="330" r="1.45" fill="#fff" stroke="#707070" stroke-width="0.6"/>
<circle cx="193" cy="333" r="1.45" fill="#fff" stroke="#707070" stroke-width="0.6"/>
<circle cx="202" cy="315" r="1.45" fill="#eef6e8" stroke="#6f9060" stroke-width="0.6"/>
<circle cx="205" cy="315" r="1.45" fill="#eef6e8" stroke="#6f9060" stroke-width="0.6"/>
<circle cx="202.5" cy="319" r="1.45" fill="#eef6e8" stroke="#6f9060" stroke-width="0.6"/>
<circle cx="205" cy="322" r="1.45" fill="#eef6e8" stroke="#6f9060" stroke-width="0.6"/>
<circle cx="203.5" cy="326" r="1.45" fill="#eef6e8" stroke="#6f9060" stroke-width="0.6"/>
<circle cx="202" cy="330" r="1.45" fill="#eef6e8" stroke="#6f9060" stroke-width="0.6"/>
<circle cx="205" cy="333" r="1.45" fill="#eef6e8" stroke="#6f9060" stroke-width="0.6"/>
<circle cx="203.5" cy="336" r="1.45" fill="#eef6e8" stroke="#6f9060" stroke-width="0.6"/>
<circle cx="213.5" cy="300.4" r="1.5" fill="#2a7d33" stroke="none" stroke-width="0.6"/>
<circle cx="213.5" cy="307.7" r="1.5" fill="#2a7d33" stroke="none" stroke-width="0.6"/>
<circle cx="212.5" cy="322" r="1.5" fill="#2a7d33" stroke="none" stroke-width="0.6"/>
<circle cx="214.5" cy="325" r="1.5" fill="#2a7d33" stroke="none" stroke-width="0.6"/>
<circle cx="213" cy="331" r="1.5" fill="#2a7d33" stroke="none" stroke-width="0.6"/>
<circle cx="214.5" cy="335" r="1.5" fill="#2a7d33" stroke="none" stroke-width="0.6"/>
<circle cx="212.5" cy="339" r="1.5" fill="#2a7d33" stroke="none" stroke-width="0.6"/>
<circle cx="222.5" cy="338.5" r="1.4" fill="#9ab0aa" stroke="#3e5250" stroke-width="0.6"/>
<circle cx="225" cy="339.5" r="1.4" fill="#9ab0aa" stroke="#3e5250" stroke-width="0.6"/>
<line x1="193.5" y1="318" x2="193.5" y2="327" stroke="#555" stroke-width="0.6"/>
<line x1="192.2" y1="318" x2="194.8" y2="318" stroke="#555" stroke-width="0.6"/>
<line x1="203.7" y1="319.2" x2="203.7" y2="328.2" stroke="#555" stroke-width="0.6"/>
<line x1="202.4" y1="319.2" x2="205" y2="319.2" stroke="#555" stroke-width="0.6"/>
<line x1="213.5" y1="320.7" x2="213.5" y2="330.7" stroke="#1d5e25" stroke-width="0.6"/>
<line x1="212.2" y1="320.7" x2="214.8" y2="320.7" stroke="#1d5e25" stroke-width="0.6"/>
<line x1="176.6" y1="343.5" x2="229.8" y2="343.5" stroke="#222" stroke-width="1.1"/>
<line x1="183.2" y1="343.5" x2="183.2" y2="345.5" stroke="#222" stroke-width="0.9"/>
<line x1="193.5" y1="343.5" x2="193.5" y2="345.5" stroke="#222" stroke-width="0.9"/>
<line x1="203.7" y1="343.5" x2="203.7" y2="345.5" stroke="#222" stroke-width="0.9"/>
<line x1="213.5" y1="343.5" x2="213.5" y2="345.5" stroke="#222" stroke-width="0.9"/>
<line x1="223.5" y1="343.5" x2="223.5" y2="345.5" stroke="#222" stroke-width="0.9"/>
<polyline points="183.1,273.2 183.1,269.1 223.3,269.1 223.3,333.3" stroke="#8a8a8a" stroke-width="0.75" fill="none"/>
<polyline points="183.1,282.4 183.1,278.3 213.7,278.3 213.7,294.6" stroke="#8a8a8a" stroke-width="0.75" fill="none"/>
<polyline points="183.1,291.5 183.1,288.1 203.5,288.1 203.5,311.9" stroke="#8a8a8a" stroke-width="0.75" fill="none"/>
<polyline points="183.1,331.2 183.1,301.1 193.3,301.1 193.3,304.8" stroke="#8a8a8a" stroke-width="0.75" fill="none"/>
<text x="201" y="266.5" font-size="6.5" fill="#333" text-anchor="middle" stroke="#333" stroke-width="0.18">ns</text>
<circle cx="197.4" cy="275.2" r="0.95" fill="#2e2e2e" stroke="none" stroke-width="0"/>
<path d="M197.4,274.1 l0,2.2 M196.3,275.2 l2.2,0" stroke="#2e2e2e" stroke-width="0.35"/>
<circle cx="193.6" cy="284.8" r="0.95" fill="#2e2e2e" stroke="none" stroke-width="0"/>
<path d="M193.6,283.7 l0,2.2 M192.5,284.8 l2.2,0" stroke="#2e2e2e" stroke-width="0.35"/>
<circle cx="186.85" cy="298.3" r="0.95" fill="#2e2e2e" stroke="none" stroke-width="0"/>
<path d="M186.85,297.2 l0,2.2 M185.75,298.3 l2.2,0" stroke="#2e2e2e" stroke-width="0.35"/>
<circle cx="189.95" cy="298.3" r="0.95" fill="#2e2e2e" stroke="none" stroke-width="0"/>
<path d="M189.95,297.2 l0,2.2 M188.85,298.3 l2.2,0" stroke="#2e2e2e" stroke-width="0.35"/>
<text x="151.4" y="317.7" font-size="8" fill="#333" text-anchor="middle" transform="rotate(-90 151.4 317.7)" textLength="62" lengthAdjust="spacingAndGlyphs" stroke="#333" stroke-width="0.18">RBCs [cells/µL BALF]</text>
<text x="187.5" y="353" font-size="6.9" fill="#333" text-anchor="end" transform="rotate(-45 187.5 353)" stroke="#333" stroke-width="0.18">WT</text>
<text x="197.5" y="353" font-size="6.9" fill="#333" text-anchor="end" transform="rotate(-45 197.5 353)" stroke="#333" stroke-width="0.18">BAK KO</text>
<text x="208" y="353" font-size="6.9" fill="#333" text-anchor="end" transform="rotate(-45 208 353)" stroke="#333" stroke-width="0.18">BAX<tspan font-size="3.8" dy="-2.6" fill="#999" stroke="#999" stroke-width="0.1">plt-/-</tspan></text>
<text x="218" y="353" font-size="6.9" fill="#333" text-anchor="end" transform="rotate(-45 218 353)" stroke="#333" stroke-width="0.18">BAK BAX<tspan font-size="3.8" dy="-2.6" fill="#999" stroke="#999" stroke-width="0.1">plt-/-</tspan><tspan dy="2.6"> KO</tspan></text>
<text x="228" y="353" font-size="6.9" fill="#333" text-anchor="end" transform="rotate(-45 228 353)" stroke="#333" stroke-width="0.18">Rej. BAK BAX<tspan font-size="3.8" dy="-2.6" fill="#999" stroke="#999" stroke-width="0.1">plt-/-</tspan><tspan dy="2.6"> KO</tspan></text>
<text x="260" y="250" font-size="12.2" fill="#111" text-anchor="start" font-weight="bold" stroke="#111" stroke-width="0.35">H</text>
<text x="315.6" y="259.6" font-size="8.8" fill="#333" text-anchor="start" textLength="71.3" lengthAdjust="spacingAndGlyphs" stroke="#333" stroke-width="0.18">Cytokines in BALF</text>
<line x1="294.4" y1="262.8" x2="399.5" y2="262.8" stroke="#8a8a8a" stroke-width="1.4"/>
<line x1="307" y1="291.4" x2="307" y2="342.6" stroke="#222" stroke-width="1.2"/>
<line x1="304" y1="292" x2="307" y2="292" stroke="#222" stroke-width="0.9"/>
<text x="301.2" y="294.8" font-size="6.7" fill="#2b2b2b" text-anchor="end" stroke="#2b2b2b" stroke-width="0.18">2500</text>
<line x1="304" y1="302" x2="307" y2="302" stroke="#222" stroke-width="0.9"/>
<text x="301.2" y="304.8" font-size="6.7" fill="#2b2b2b" text-anchor="end" stroke="#2b2b2b" stroke-width="0.18">2000</text>
<line x1="304" y1="312" x2="307" y2="312" stroke="#222" stroke-width="0.9"/>
<text x="301.2" y="314.8" font-size="6.7" fill="#2b2b2b" text-anchor="end" stroke="#2b2b2b" stroke-width="0.18">1500</text>
<line x1="304" y1="322" x2="307" y2="322" stroke="#222" stroke-width="0.9"/>
<text x="301.2" y="324.8" font-size="6.7" fill="#2b2b2b" text-anchor="end" stroke="#2b2b2b" stroke-width="0.18">1000</text>
<line x1="304" y1="332" x2="307" y2="332" stroke="#222" stroke-width="0.9"/>
<text x="301.2" y="334.8" font-size="6.7" fill="#2b2b2b" text-anchor="end" stroke="#2b2b2b" stroke-width="0.18">500</text>
<line x1="304" y1="342" x2="307" y2="342" stroke="#222" stroke-width="0.9"/>
<text x="301.2" y="344.8" font-size="6.7" fill="#2b2b2b" text-anchor="end" stroke="#2b2b2b" stroke-width="0.18">0</text>
<line x1="307" y1="342" x2="400" y2="342" stroke="#222" stroke-width="1.1"/>
<line x1="317.5" y1="342" x2="317.5" y2="344" stroke="#222" stroke-width="0.9"/>
<line x1="341.3" y1="342" x2="341.3" y2="344" stroke="#222" stroke-width="0.9"/>
<line x1="365.6" y1="342" x2="365.6" y2="344" stroke="#222" stroke-width="0.9"/>
<line x1="389.6" y1="342" x2="389.6" y2="344" stroke="#222" stroke-width="0.9"/>
<polyline points="310.5,279 310.5,274.4 322.9,274.4 322.9,279" stroke="#8a8a8a" stroke-width="0.75" fill="none"/>
<text x="317.15" y="271.5" font-size="6.5" fill="#333" text-anchor="middle" stroke="#333" stroke-width="0.18">ns</text>
<polyline points="334.5,279 334.5,274.4 348.1,274.4 348.1,279" stroke="#8a8a8a" stroke-width="0.75" fill="none"/>
<text x="341.75" y="271.5" font-size="6.5" fill="#333" text-anchor="middle" stroke="#333" stroke-width="0.18">ns</text>
<polyline points="358.3,279 358.3,274.4 371.1,274.4 371.1,279" stroke="#8a8a8a" stroke-width="0.75" fill="none"/>
<text x="365.15" y="271.5" font-size="6.5" fill="#333" text-anchor="middle" stroke="#333" stroke-width="0.18">ns</text>
<polyline points="382.3,279 382.3,274.4 395.6,274.4 395.6,279" stroke="#8a8a8a" stroke-width="0.75" fill="none"/>
<text x="389.4" y="271.5" font-size="6.5" fill="#333" text-anchor="middle" stroke="#333" stroke-width="0.18">ns</text>
<polyline points="311.1,333 311.1,290.4 317.3,290.4 317.3,339" stroke="#8a8a8a" stroke-width="0.75" fill="none"/>
<text x="314.2" y="288.3" font-size="6.5" fill="#333" text-anchor="middle" stroke="#333" stroke-width="0.18">ns</text>
<polyline points="335.1,333 335.1,290.4 342,290.4 342,303" stroke="#8a8a8a" stroke-width="0.75" fill="none"/>
<circle cx="334.25" cy="287" r="0.95" fill="#2e2e2e" stroke="none" stroke-width="0"/>
<path d="M334.25,285.9 l0,2.2 M333.15,287 l2.2,0" stroke="#2e2e2e" stroke-width="0.35"/>
<circle cx="337.15" cy="287" r="0.95" fill="#2e2e2e" stroke="none" stroke-width="0"/>
<path d="M337.15,285.9 l0,2.2 M336.05,287 l2.2,0" stroke="#2e2e2e" stroke-width="0.35"/>
<circle cx="340.05" cy="287" r="0.95" fill="#2e2e2e" stroke="none" stroke-width="0"/>
<path d="M340.05,285.9 l0,2.2 M338.95,287 l2.2,0" stroke="#2e2e2e" stroke-width="0.35"/>
<circle cx="342.95" cy="287" r="0.95" fill="#2e2e2e" stroke="none" stroke-width="0"/>
<path d="M342.95,285.9 l0,2.2 M341.85,287 l2.2,0" stroke="#2e2e2e" stroke-width="0.35"/>
<polyline points="359.3,333 359.3,290.8 365.3,290.8 365.3,327.3" stroke="#8a8a8a" stroke-width="0.75" fill="none"/>
<text x="362.3" y="288.5" font-size="6.5" fill="#333" text-anchor="middle" stroke="#333" stroke-width="0.18">ns</text>
<polyline points="383.6,326.3 383.6,290.8 389.3,290.8 389.3,317.5" stroke="#8a8a8a" stroke-width="0.75" fill="none"/>
<circle cx="386.5" cy="287" r="0.95" fill="#2e2e2e" stroke="none" stroke-width="0"/>
<path d="M386.5,285.9 l0,2.2 M385.4,287 l2.2,0" stroke="#2e2e2e" stroke-width="0.35"/>
<circle cx="311" cy="341.2" r="1.4" fill="#1c3f58" stroke="none" stroke-width="0.6"/>
<circle cx="313" cy="341.2" r="1.4" fill="#1c3f58" stroke="none" stroke-width="0.6"/>
<circle cx="317.2" cy="340" r="1.4" fill="#2a7d33" stroke="none" stroke-width="0.6"/>
<circle cx="318.5" cy="341" r="1.4" fill="#2a7d33" stroke="none" stroke-width="0.6"/>
<circle cx="316.5" cy="341.5" r="1.4" fill="#2a7d33" stroke="none" stroke-width="0.6"/>
<circle cx="323.3" cy="341.2" r="1.45" fill="#fff" stroke="#777" stroke-width="0.6"/>
<circle cx="335" cy="341.2" r="1.4" fill="#1c3f58" stroke="none" stroke-width="0.6"/>
<circle cx="337" cy="341.2" r="1.4" fill="#1c3f58" stroke="none" stroke-width="0.6"/>
<rect x="339.6" y="330" width="3.8" height="12" fill="#3aa647" stroke="none" stroke-width="0"/>
<circle cx="341.2" cy="304.6" r="1.45" fill="#2a7d33" stroke="none" stroke-width="0.6"/>
<circle cx="341.2" cy="320.8" r="1.45" fill="#2a7d33" stroke="none" stroke-width="0.6"/>
<circle cx="341.2" cy="322.7" r="1.45" fill="#2a7d33" stroke="none" stroke-width="0.6"/>
<circle cx="341.2" cy="324.6" r="1.45" fill="#2a7d33" stroke="none" stroke-width="0.6"/>
<circle cx="341.2" cy="329.5" r="1.45" fill="#2a7d33" stroke="none" stroke-width="0.6"/>
<circle cx="340.2" cy="331.5" r="1.45" fill="#2a7d33" stroke="none" stroke-width="0.6"/>
<circle cx="342.3" cy="332.5" r="1.45" fill="#2a7d33" stroke="none" stroke-width="0.6"/>
<circle cx="340.5" cy="334.5" r="1.45" fill="#2a7d33" stroke="none" stroke-width="0.6"/>
<circle cx="342.5" cy="335.5" r="1.45" fill="#2a7d33" stroke="none" stroke-width="0.6"/>
<circle cx="340.8" cy="337.5" r="1.45" fill="#2a7d33" stroke="none" stroke-width="0.6"/>
<circle cx="342.2" cy="338.5" r="1.45" fill="#2a7d33" stroke="none" stroke-width="0.6"/>
<circle cx="341" cy="340.5" r="1.45" fill="#2a7d33" stroke="none" stroke-width="0.6"/>
<circle cx="348.5" cy="335.4" r="1.45" fill="#ddd" stroke="#777" stroke-width="0.6"/>
<circle cx="348.5" cy="338" r="1.45" fill="#ddd" stroke="#777" stroke-width="0.6"/>
<circle cx="358.7" cy="341.2" r="1.4" fill="#1c3f58" stroke="none" stroke-width="0.6"/>
<circle cx="365.9" cy="334.6" r="1.4" fill="#2a7d33" stroke="none" stroke-width="0.6"/>
<circle cx="365.9" cy="337" r="1.4" fill="#2a7d33" stroke="none" stroke-width="0.6"/>
<circle cx="365.9" cy="339.4" r="1.4" fill="#2a7d33" stroke="none" stroke-width="0.6"/>
<circle cx="365.9" cy="341.5" r="1.4" fill="#2a7d33" stroke="none" stroke-width="0.6"/>
<circle cx="372.2" cy="341.5" r="1.45" fill="#fff" stroke="#777" stroke-width="0.6"/>
<circle cx="383.2" cy="333.6" r="1.45" fill="#1c3f58" stroke="none" stroke-width="0.6"/>
<circle cx="382.4" cy="335.6" r="1.45" fill="#1c3f58" stroke="none" stroke-width="0.6"/>
<circle cx="384" cy="336" r="1.45" fill="#1c3f58" stroke="none" stroke-width="0.6"/>
<circle cx="382.6" cy="338" r="1.45" fill="#1c3f58" stroke="none" stroke-width="0.6"/>
<circle cx="383.8" cy="338.6" r="1.45" fill="#1c3f58" stroke="none" stroke-width="0.6"/>
<circle cx="382.4" cy="340.4" r="1.45" fill="#1c3f58" stroke="none" stroke-width="0.6"/>
<circle cx="384" cy="341" r="1.45" fill="#1c3f58" stroke="none" stroke-width="0.6"/>
<circle cx="390" cy="324.8" r="1.45" fill="#2a7d33" stroke="none" stroke-width="0.6"/>
<circle cx="390" cy="327.2" r="1.45" fill="#2a7d33" stroke="none" stroke-width="0.6"/>
<circle cx="389.2" cy="330" r="1.45" fill="#2a7d33" stroke="none" stroke-width="0.6"/>
<circle cx="390.8" cy="331.5" r="1.45" fill="#2a7d33" stroke="none" stroke-width="0.6"/>
<circle cx="389.3" cy="333.6" r="1.45" fill="#2a7d33" stroke="none" stroke-width="0.6"/>
<circle cx="390.8" cy="335.2" r="1.45" fill="#2a7d33" stroke="none" stroke-width="0.6"/>
<circle cx="389.3" cy="337.2" r="1.45" fill="#2a7d33" stroke="none" stroke-width="0.6"/>
<circle cx="390.8" cy="338.6" r="1.45" fill="#2a7d33" stroke="none" stroke-width="0.6"/>
<circle cx="389.6" cy="340.6" r="1.45" fill="#2a7d33" stroke="none" stroke-width="0.6"/>
<circle cx="396.2" cy="340.6" r="1.6" fill="#ccc" stroke="#777" stroke-width="0.6"/>
<text x="279.2" y="315.2" font-size="8" fill="#333" text-anchor="middle" transform="rotate(-90 279.2 315.2)" textLength="56.7" lengthAdjust="spacingAndGlyphs" stroke="#333" stroke-width="0.18">BALF conc. [pg/ml]</text>
<text x="321" y="354.5" font-size="6.9" fill="#333" text-anchor="end" transform="rotate(-45 321 354.5)" stroke="#333" stroke-width="0.18">IL-1α</text>
<text x="345" y="355.5" font-size="6.9" fill="#333" text-anchor="end" transform="rotate(-45 345 355.5)" stroke="#333" stroke-width="0.18">TNF-α</text>
<text x="369.8" y="353.5" font-size="6.9" fill="#333" text-anchor="end" transform="rotate(-45 369.8 353.5)" stroke="#333" stroke-width="0.18">MCP-1</text>
<text x="393.3" y="353.5" font-size="6.9" fill="#333" text-anchor="end" transform="rotate(-45 393.3 353.5)" stroke="#333" stroke-width="0.18">IL-6</text>
<circle cx="427.3" cy="293.2" r="1.2" fill="#1a1a1a" stroke="none" stroke-width="0"/>
<text x="432.1" y="295.6" font-size="6.6" fill="#333" text-anchor="start" textLength="9.5" lengthAdjust="spacingAndGlyphs" stroke="#333" stroke-width="0.18">WT</text>
<circle cx="427.3" cy="301.2" r="1.2" fill="#3a6a4a" stroke="none" stroke-width="0"/>
<text x="432.1" y="303.9" font-size="6.6" fill="#333" text-anchor="start" textLength="52" lengthAdjust="spacingAndGlyphs" stroke="#333" stroke-width="0.18">BAK KO and BAX</text>
<text x="484.5" y="300.5" font-size="3.4" fill="#777" text-anchor="start" stroke="#777" stroke-width="0.18">plt-/-</text>
<circle cx="427.3" cy="309.4" r="1.2" fill="#aaa" stroke="#777" stroke-width="0.4"/>
<text x="432.1" y="312.3" font-size="6.6" fill="#333" text-anchor="start" textLength="42" lengthAdjust="spacingAndGlyphs" stroke="#333" stroke-width="0.18">Rej. BAK BAX</text>
<text x="474.5" y="308.7" font-size="3.4" fill="#777" text-anchor="start" stroke="#777" stroke-width="0.18">plt-/-</text>
<text x="486" y="312.3" font-size="6.6" fill="#333" text-anchor="start" textLength="10" lengthAdjust="spacingAndGlyphs" stroke="#333" stroke-width="0.18">KO</text>
<rect x="0.5" y="0.5" width="519" height="406" fill="none" stroke="#555" stroke-width="1"/>
</svg></body></html>
